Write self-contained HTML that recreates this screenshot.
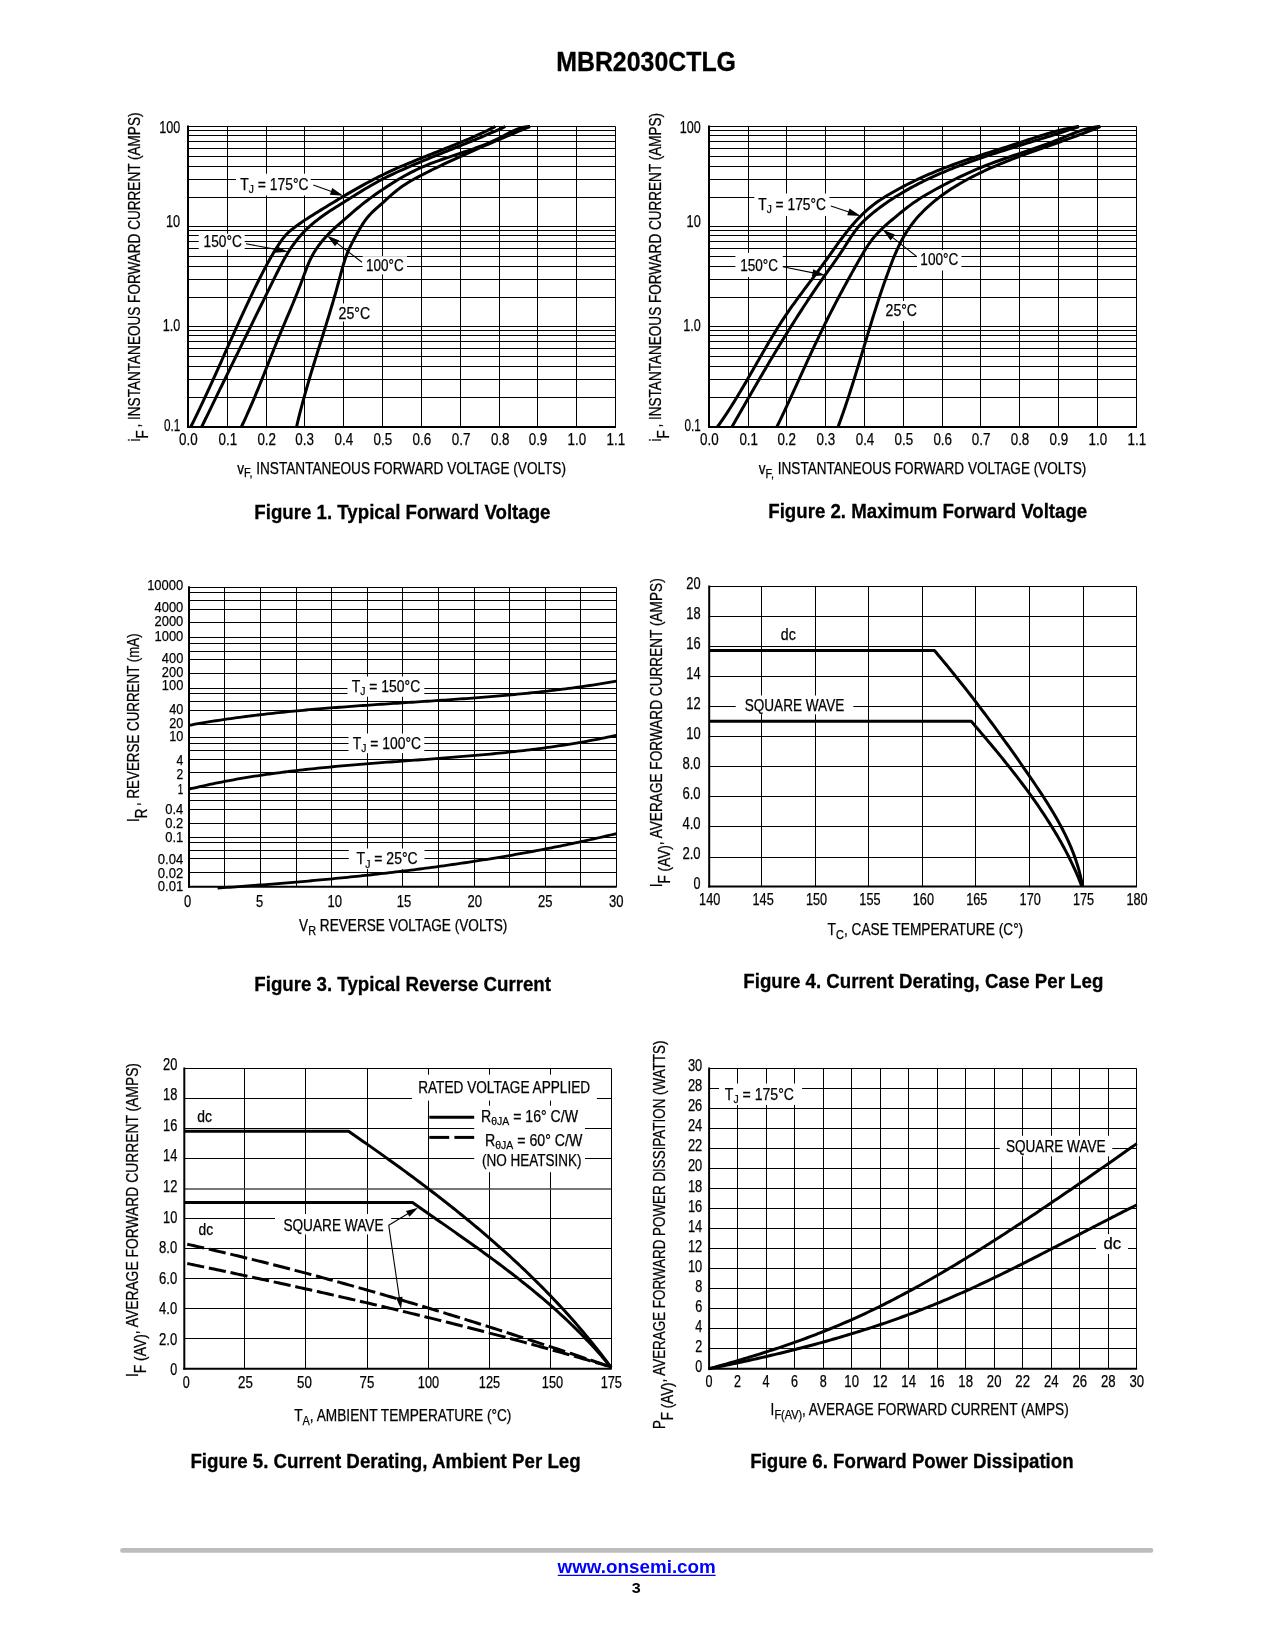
<!DOCTYPE html>
<html><head><meta charset="utf-8"><title>MBR2030CTLG</title>
<style>html,body{margin:0;padding:0;background:#fff;width:1275px;height:1650px;overflow:hidden;font-family:"Liberation Sans", sans-serif;}</style>
</head><body>
<svg width="1275" height="1650" viewBox="0 0 1275 1650" style="display:block;will-change:transform">
<rect width="1275" height="1650" fill="#fff"/>
<g font-family='"Liberation Sans", sans-serif'>
<text x="556.20" y="71.20" font-size="27.3" font-weight="bold" fill="#000" stroke="#000" stroke-width="0.3" textLength="179.80" lengthAdjust="spacingAndGlyphs">MBR2030CTLG</text>
<line x1="227.50" y1="126.50" x2="227.50" y2="427.00" stroke="#000" stroke-width="1"/>
<line x1="266.50" y1="126.50" x2="266.50" y2="427.00" stroke="#000" stroke-width="1"/>
<line x1="304.50" y1="126.50" x2="304.50" y2="427.00" stroke="#000" stroke-width="1"/>
<line x1="343.50" y1="126.50" x2="343.50" y2="427.00" stroke="#000" stroke-width="1"/>
<line x1="382.50" y1="126.50" x2="382.50" y2="427.00" stroke="#000" stroke-width="1"/>
<line x1="421.50" y1="126.50" x2="421.50" y2="427.00" stroke="#000" stroke-width="1"/>
<line x1="460.50" y1="126.50" x2="460.50" y2="427.00" stroke="#000" stroke-width="1"/>
<line x1="499.50" y1="126.50" x2="499.50" y2="427.00" stroke="#000" stroke-width="1"/>
<line x1="537.50" y1="126.50" x2="537.50" y2="427.00" stroke="#000" stroke-width="1"/>
<line x1="576.50" y1="126.50" x2="576.50" y2="427.00" stroke="#000" stroke-width="1"/>
<line x1="188.00" y1="126.50" x2="615.50" y2="126.50" stroke="#000" stroke-width="1"/>
<line x1="188.00" y1="130.50" x2="615.50" y2="130.50" stroke="#000" stroke-width="1"/>
<line x1="188.00" y1="135.50" x2="615.50" y2="135.50" stroke="#000" stroke-width="1"/>
<line x1="188.00" y1="141.50" x2="615.50" y2="141.50" stroke="#000" stroke-width="1"/>
<line x1="188.00" y1="148.50" x2="615.50" y2="148.50" stroke="#000" stroke-width="1"/>
<line x1="188.00" y1="156.50" x2="615.50" y2="156.50" stroke="#000" stroke-width="1"/>
<line x1="188.00" y1="166.50" x2="615.50" y2="166.50" stroke="#000" stroke-width="1"/>
<line x1="188.00" y1="179.50" x2="615.50" y2="179.50" stroke="#000" stroke-width="1"/>
<line x1="188.00" y1="197.50" x2="615.50" y2="197.50" stroke="#000" stroke-width="1"/>
<line x1="188.00" y1="226.50" x2="615.50" y2="226.50" stroke="#000" stroke-width="1"/>
<line x1="188.00" y1="230.50" x2="615.50" y2="230.50" stroke="#000" stroke-width="1"/>
<line x1="188.00" y1="235.50" x2="615.50" y2="235.50" stroke="#000" stroke-width="1"/>
<line x1="188.00" y1="241.50" x2="615.50" y2="241.50" stroke="#000" stroke-width="1"/>
<line x1="188.00" y1="248.50" x2="615.50" y2="248.50" stroke="#000" stroke-width="1"/>
<line x1="188.00" y1="256.50" x2="615.50" y2="256.50" stroke="#000" stroke-width="1"/>
<line x1="188.00" y1="266.50" x2="615.50" y2="266.50" stroke="#000" stroke-width="1"/>
<line x1="188.00" y1="279.50" x2="615.50" y2="279.50" stroke="#000" stroke-width="1"/>
<line x1="188.00" y1="297.50" x2="615.50" y2="297.50" stroke="#000" stroke-width="1"/>
<line x1="188.00" y1="326.50" x2="615.50" y2="326.50" stroke="#000" stroke-width="1"/>
<line x1="188.00" y1="330.50" x2="615.50" y2="330.50" stroke="#000" stroke-width="1"/>
<line x1="188.00" y1="335.50" x2="615.50" y2="335.50" stroke="#000" stroke-width="1"/>
<line x1="188.00" y1="341.50" x2="615.50" y2="341.50" stroke="#000" stroke-width="1"/>
<line x1="188.00" y1="348.50" x2="615.50" y2="348.50" stroke="#000" stroke-width="1"/>
<line x1="188.00" y1="356.50" x2="615.50" y2="356.50" stroke="#000" stroke-width="1"/>
<line x1="188.00" y1="366.50" x2="615.50" y2="366.50" stroke="#000" stroke-width="1"/>
<line x1="188.00" y1="379.50" x2="615.50" y2="379.50" stroke="#000" stroke-width="1"/>
<line x1="188.00" y1="397.50" x2="615.50" y2="397.50" stroke="#000" stroke-width="1"/>
<rect x="236.00" y="173.70" width="74.70" height="21.70" fill="#fff"/>
<rect x="198.70" y="233.70" width="46.00" height="15.80" fill="#fff"/>
<rect x="362.60" y="256.20" width="44.40" height="18.20" fill="#fff"/>
<rect x="335.50" y="303.50" width="37.50" height="18.00" fill="#fff"/>
<line x1="615.50" y1="126.50" x2="615.50" y2="427.00" stroke="#000" stroke-width="1"/>
<line x1="188.00" y1="125.50" x2="188.00" y2="428.00" stroke="#000" stroke-width="2"/>
<line x1="187.00" y1="427.00" x2="616.00" y2="427.00" stroke="#000" stroke-width="2"/>
<path d="M190.70,427.00 L192.06,424.28 L193.41,421.55 L194.75,418.82 L196.08,416.09 L197.41,413.35 L198.72,410.61 L200.03,407.87 L201.33,405.13 L202.63,402.38 L203.92,399.64 L205.20,396.89 L206.47,394.13 L207.74,391.38 L209.01,388.63 L210.27,385.87 L211.53,383.11 L212.78,380.35 L214.03,377.59 L215.27,374.83 L216.51,372.07 L217.75,369.31 L218.99,366.54 L220.23,363.78 L221.46,361.02 L222.69,358.25 L223.93,355.49 L225.16,352.72 L226.39,349.96 L227.62,347.19 L228.86,344.43 L230.09,341.67 L231.33,338.90 L232.57,336.14 L233.81,333.38 L235.05,330.62 L236.29,327.86 L237.54,325.10 L238.79,322.35 L240.05,319.59 L241.31,316.84 L242.58,314.09 L243.85,311.34 L245.12,308.59 L246.40,305.84 L247.69,303.10 L248.99,300.36 L250.29,297.62 L251.60,294.89 L252.91,292.15 L254.24,289.42 L255.57,286.70 L256.91,283.97 L258.26,281.25 L259.62,278.53 L260.99,275.82 L262.38,273.11 L263.77,270.41 L265.19,267.72 L266.62,265.04 L268.07,262.37 L269.55,259.71 L271.05,257.07 L272.57,254.44 L274.13,251.83 L275.72,249.25 L277.33,246.68 L278.99,244.14 L280.69,241.63 L282.46,239.18 L284.32,236.81 L286.29,234.56 L288.39,232.44 L290.62,230.46 L292.96,228.58 L295.37,226.78 L297.81,225.01 L300.28,223.27 L302.78,221.56 L305.29,219.87 L307.82,218.20 L310.38,216.55 L312.94,214.92 L315.52,213.31 L318.10,211.70 L320.70,210.10 L323.29,208.51 L325.89,206.93 L328.49,205.34 L331.09,203.76 L333.69,202.19 L336.29,200.61 L338.89,199.05 L341.49,197.49 L344.10,195.94 L346.71,194.40 L349.33,192.87 L351.95,191.35 L354.58,189.84 L357.21,188.34 L359.85,186.86 L362.49,185.39 L365.14,183.93 L367.80,182.50 L370.47,181.08 L373.15,179.67 L375.83,178.29 L378.53,176.92 L381.24,175.58 L383.96,174.26 L386.69,172.96 L389.43,171.67 L392.17,170.41 L394.93,169.17 L397.70,167.94 L400.48,166.73 L403.26,165.53 L406.05,164.35 L408.84,163.18 L411.65,162.01 L414.45,160.86 L417.26,159.72 L420.08,158.58 L422.90,157.45 L425.72,156.33 L428.54,155.21 L431.37,154.09 L434.19,152.98 L437.02,151.86 L439.85,150.75 L442.67,149.63 L445.49,148.51 L448.32,147.38 L451.13,146.25 L453.95,145.11 L456.76,143.97 L459.57,142.82 L462.37,141.65 L465.17,140.48 L467.96,139.29 L470.74,138.09 L473.52,136.88 L476.29,135.65 L479.05,134.40 L481.80,133.14 L484.54,131.85 L487.27,130.55 L489.99,129.22 L492.70,127.87 L495.40,126.50" fill="none" stroke="#000" stroke-width="3" stroke-linejoin="round" stroke-linecap="butt"/>
<path d="M201.60,427.00 L202.93,424.26 L204.26,421.51 L205.60,418.77 L206.93,416.04 L208.26,413.30 L209.59,410.56 L210.92,407.83 L212.25,405.09 L213.58,402.36 L214.91,399.63 L216.24,396.90 L217.57,394.17 L218.90,391.44 L220.23,388.71 L221.56,385.98 L222.89,383.26 L224.22,380.53 L225.55,377.81 L226.88,375.08 L228.21,372.36 L229.54,369.64 L230.87,366.91 L232.20,364.19 L233.54,361.47 L234.87,358.75 L236.20,356.03 L237.53,353.30 L238.86,350.58 L240.19,347.86 L241.52,345.14 L242.86,342.42 L244.19,339.70 L245.52,336.98 L246.86,334.25 L248.19,331.53 L249.52,328.81 L250.86,326.09 L252.19,323.36 L253.53,320.64 L254.86,317.91 L256.20,315.19 L257.54,312.46 L258.88,309.74 L260.21,307.01 L261.55,304.28 L262.89,301.55 L264.23,298.82 L265.57,296.09 L266.91,293.36 L268.26,290.63 L269.60,287.89 L270.94,285.16 L272.29,282.42 L273.63,279.68 L274.98,276.95 L276.33,274.21 L277.69,271.48 L279.07,268.75 L280.46,266.04 L281.88,263.35 L283.33,260.68 L284.81,258.03 L286.33,255.40 L287.90,252.81 L289.51,250.25 L291.17,247.73 L292.90,245.24 L294.68,242.81 L296.52,240.41 L298.42,238.07 L300.38,235.77 L302.39,233.52 L304.47,231.33 L306.60,229.19 L308.78,227.11 L311.02,225.08 L313.32,223.11 L315.66,221.20 L318.06,219.34 L320.49,217.52 L322.96,215.74 L325.46,214.00 L327.99,212.29 L330.54,210.61 L333.11,208.95 L335.69,207.30 L338.28,205.67 L340.87,204.04 L343.46,202.42 L346.05,200.80 L348.63,199.17 L351.21,197.55 L353.79,195.93 L356.37,194.32 L358.95,192.72 L361.53,191.13 L364.12,189.55 L366.72,187.99 L369.32,186.45 L371.94,184.93 L374.57,183.44 L377.21,181.97 L379.87,180.53 L382.54,179.12 L385.24,177.74 L387.95,176.40 L390.67,175.08 L393.41,173.78 L396.16,172.51 L398.92,171.25 L401.68,170.01 L404.45,168.77 L407.23,167.55 L410.01,166.34 L412.80,165.15 L415.59,163.96 L418.39,162.77 L421.19,161.60 L424.00,160.43 L426.81,159.27 L429.62,158.12 L432.43,156.97 L435.25,155.83 L438.07,154.69 L440.89,153.55 L443.71,152.41 L446.53,151.28 L449.35,150.14 L452.18,149.01 L455.00,147.87 L457.82,146.74 L460.64,145.60 L463.46,144.46 L466.27,143.31 L469.09,142.17 L471.90,141.01 L474.71,139.85 L477.51,138.68 L480.31,137.51 L483.11,136.33 L485.90,135.14 L488.69,133.94 L491.48,132.73 L494.25,131.51 L497.02,130.27 L499.79,129.03 L502.55,127.77 L505.30,126.50" fill="none" stroke="#000" stroke-width="3" stroke-linejoin="round" stroke-linecap="butt"/>
<path d="M241.30,427.00 L242.61,424.26 L243.90,421.52 L245.18,418.76 L246.44,416.00 L247.69,413.23 L248.93,410.46 L250.15,407.68 L251.36,404.89 L252.55,402.10 L253.74,399.30 L254.92,396.50 L256.09,393.69 L257.25,390.88 L258.40,388.07 L259.55,385.25 L260.69,382.43 L261.83,379.61 L262.96,376.79 L264.08,373.96 L265.21,371.13 L266.33,368.31 L267.45,365.48 L268.57,362.65 L269.69,359.82 L270.81,357.00 L271.93,354.17 L273.06,351.35 L274.18,348.52 L275.31,345.71 L276.45,342.89 L277.59,340.08 L278.74,337.27 L279.89,334.46 L281.05,331.66 L282.22,328.86 L283.40,326.07 L284.57,323.27 L285.75,320.48 L286.93,317.69 L288.12,314.90 L289.30,312.11 L290.48,309.31 L291.65,306.52 L292.82,303.72 L293.98,300.91 L295.13,298.10 L296.28,295.29 L297.41,292.46 L298.54,289.63 L299.65,286.79 L300.74,283.94 L301.82,281.09 L302.89,278.22 L303.94,275.34 L304.99,272.46 L306.06,269.60 L307.17,266.75 L308.33,263.93 L309.55,261.14 L310.84,258.40 L312.23,255.71 L313.72,253.08 L315.30,250.50 L316.96,247.98 L318.70,245.51 L320.53,243.09 L322.43,240.73 L324.39,238.42 L326.43,236.17 L328.53,233.97 L330.68,231.83 L332.89,229.73 L335.14,227.68 L337.42,225.65 L339.71,223.65 L342.01,221.65 L344.30,219.65 L346.59,217.65 L348.87,215.65 L351.15,213.65 L353.43,211.66 L355.73,209.69 L358.05,207.74 L360.40,205.82 L362.76,203.92 L365.16,202.05 L367.57,200.21 L370.01,198.39 L372.46,196.59 L374.94,194.82 L377.43,193.07 L379.93,191.34 L382.44,189.63 L384.97,187.94 L387.51,186.27 L390.06,184.62 L392.62,182.99 L395.20,181.40 L397.79,179.82 L400.40,178.28 L403.02,176.77 L405.66,175.29 L408.32,173.85 L411.00,172.44 L413.69,171.08 L416.41,169.75 L419.14,168.46 L421.90,167.21 L424.68,166.01 L427.48,164.85 L430.30,163.73 L433.13,162.64 L435.98,161.58 L438.84,160.54 L441.71,159.53 L444.59,158.54 L447.48,157.56 L450.38,156.59 L453.28,155.63 L456.18,154.67 L459.08,153.72 L461.98,152.76 L464.88,151.79 L467.77,150.81 L470.65,149.82 L473.53,148.81 L476.40,147.78 L479.25,146.73 L482.10,145.64 L484.92,144.53 L487.73,143.37 L490.52,142.18 L493.29,140.94 L496.04,139.66 L498.76,138.33 L501.46,136.94 L504.14,135.52 L506.82,134.09 L509.51,132.70 L512.23,131.37 L514.99,130.13 L517.81,129.02 L520.71,128.07 L523.70,127.31 L526.79,126.78 L530.00,126.50" fill="none" stroke="#000" stroke-width="3" stroke-linejoin="round" stroke-linecap="butt"/>
<path d="M296.50,427.00 L297.19,424.04 L297.90,421.08 L298.62,418.12 L299.36,415.17 L300.10,412.22 L300.86,409.28 L301.64,406.34 L302.42,403.40 L303.21,400.47 L304.02,397.54 L304.83,394.61 L305.66,391.68 L306.49,388.76 L307.33,385.84 L308.18,382.92 L309.04,380.01 L309.90,377.10 L310.77,374.19 L311.65,371.28 L312.53,368.37 L313.42,365.46 L314.31,362.56 L315.20,359.65 L316.10,356.75 L317.00,353.85 L317.90,350.95 L318.80,348.04 L319.71,345.14 L320.62,342.24 L321.52,339.34 L322.43,336.44 L323.33,333.54 L324.23,330.64 L325.14,327.73 L326.04,324.83 L326.93,321.93 L327.82,319.02 L328.71,316.11 L329.60,313.21 L330.48,310.30 L331.35,307.38 L332.22,304.47 L333.08,301.55 L333.93,298.64 L334.78,295.72 L335.62,292.79 L336.45,289.87 L337.27,286.94 L338.08,284.01 L338.88,281.07 L339.67,278.14 L340.45,275.20 L341.24,272.26 L342.04,269.33 L342.87,266.41 L343.73,263.50 L344.64,260.61 L345.60,257.74 L346.63,254.90 L347.73,252.08 L348.92,249.30 L350.21,246.56 L351.58,243.84 L353.00,241.14 L354.45,238.45 L355.90,235.76 L357.37,233.07 L358.86,230.40 L360.39,227.76 L361.98,225.17 L363.63,222.63 L365.37,220.16 L367.20,217.78 L369.15,215.49 L371.21,213.30 L373.35,211.18 L375.57,209.12 L377.83,207.09 L380.12,205.08 L382.40,203.07 L384.67,201.03 L386.94,198.99 L389.20,196.95 L391.48,194.93 L393.78,192.94 L396.11,191.00 L398.49,189.12 L400.92,187.31 L403.41,185.59 L405.94,183.93 L408.52,182.34 L411.14,180.80 L413.80,179.31 L416.47,177.86 L419.16,176.43 L421.87,175.03 L424.58,173.64 L427.29,172.26 L430.01,170.89 L432.73,169.53 L435.46,168.19 L438.20,166.85 L440.93,165.53 L443.68,164.22 L446.42,162.91 L449.17,161.62 L451.93,160.33 L454.68,159.06 L457.45,157.79 L460.21,156.53 L462.98,155.27 L465.75,154.03 L468.52,152.79 L471.30,151.55 L474.08,150.33 L476.86,149.11 L479.64,147.89 L482.43,146.68 L485.22,145.47 L488.01,144.27 L490.80,143.07 L493.60,141.88 L496.39,140.69 L499.19,139.50 L501.99,138.31 L504.79,137.13 L507.59,135.94 L510.39,134.76 L513.19,133.58 L515.99,132.40 L518.79,131.22 L521.59,130.04 L524.40,128.86 L527.20,127.68 L530.00,126.50" fill="none" stroke="#000" stroke-width="3" stroke-linejoin="round" stroke-linecap="butt"/>
<line x1="313.30" y1="185.00" x2="332.94" y2="192.00" stroke="#000" stroke-width="1.1"/>
<polygon points="343.30,195.70 329.85,194.72 332.26,187.94" fill="#000"/>
<line x1="246.00" y1="243.70" x2="277.19" y2="249.64" stroke="#000" stroke-width="1.1"/>
<polygon points="288.00,251.70 274.56,252.80 275.90,245.73" fill="#000"/>
<line x1="362.00" y1="262.30" x2="335.63" y2="242.09" stroke="#000" stroke-width="1.1"/>
<polygon points="326.90,235.40 339.41,240.45 335.03,246.17" fill="#000"/>
<text x="240.20" y="189.70" font-size="15.6" font-weight="normal" fill="#000" stroke="#000" stroke-width="0.25" textLength="68.30" lengthAdjust="spacingAndGlyphs">T<tspan font-size="11.544" dy="3.4">J</tspan><tspan font-size="15.6" dy="-3.4"> = 175°C</tspan></text>
<text x="203.50" y="246.60" font-size="15.6" font-weight="normal" fill="#000" stroke="#000" stroke-width="0.25" textLength="38.30" lengthAdjust="spacingAndGlyphs">150°C</text>
<text x="366.00" y="270.70" font-size="15.6" font-weight="normal" fill="#000" stroke="#000" stroke-width="0.25" textLength="37.70" lengthAdjust="spacingAndGlyphs">100°C</text>
<text x="338.60" y="318.80" font-size="15.6" font-weight="normal" fill="#000" stroke="#000" stroke-width="0.25" textLength="31.60" lengthAdjust="spacingAndGlyphs">25°C</text>
<text x="179.10" y="445.00" font-size="16.3" font-weight="normal" fill="#000" stroke="#000" stroke-width="0.25" textLength="18.60" lengthAdjust="spacingAndGlyphs">0.0</text>
<text x="218.60" y="445.00" font-size="16.3" font-weight="normal" fill="#000" stroke="#000" stroke-width="0.25" textLength="18.60" lengthAdjust="spacingAndGlyphs">0.1</text>
<text x="257.40" y="445.00" font-size="16.3" font-weight="normal" fill="#000" stroke="#000" stroke-width="0.25" textLength="18.60" lengthAdjust="spacingAndGlyphs">0.2</text>
<text x="295.30" y="445.00" font-size="16.3" font-weight="normal" fill="#000" stroke="#000" stroke-width="0.25" textLength="18.60" lengthAdjust="spacingAndGlyphs">0.3</text>
<text x="334.50" y="445.00" font-size="16.3" font-weight="normal" fill="#000" stroke="#000" stroke-width="0.25" textLength="18.60" lengthAdjust="spacingAndGlyphs">0.4</text>
<text x="373.50" y="445.00" font-size="16.3" font-weight="normal" fill="#000" stroke="#000" stroke-width="0.25" textLength="18.60" lengthAdjust="spacingAndGlyphs">0.5</text>
<text x="412.50" y="445.00" font-size="16.3" font-weight="normal" fill="#000" stroke="#000" stroke-width="0.25" textLength="18.60" lengthAdjust="spacingAndGlyphs">0.6</text>
<text x="451.80" y="445.00" font-size="16.3" font-weight="normal" fill="#000" stroke="#000" stroke-width="0.25" textLength="18.60" lengthAdjust="spacingAndGlyphs">0.7</text>
<text x="490.90" y="445.00" font-size="16.3" font-weight="normal" fill="#000" stroke="#000" stroke-width="0.25" textLength="18.60" lengthAdjust="spacingAndGlyphs">0.8</text>
<text x="528.70" y="445.00" font-size="16.3" font-weight="normal" fill="#000" stroke="#000" stroke-width="0.25" textLength="18.60" lengthAdjust="spacingAndGlyphs">0.9</text>
<text x="567.60" y="445.00" font-size="16.3" font-weight="normal" fill="#000" stroke="#000" stroke-width="0.25" textLength="18.60" lengthAdjust="spacingAndGlyphs">1.0</text>
<text x="606.60" y="445.00" font-size="16.3" font-weight="normal" fill="#000" stroke="#000" stroke-width="0.25" textLength="18.60" lengthAdjust="spacingAndGlyphs">1.1</text>
<text x="159.20" y="132.60" font-size="16.5" font-weight="normal" fill="#000" stroke="#000" stroke-width="0.25" textLength="21.00" lengthAdjust="spacingAndGlyphs">100</text>
<text x="166.00" y="226.70" font-size="16.5" font-weight="normal" fill="#000" stroke="#000" stroke-width="0.25" textLength="14.20" lengthAdjust="spacingAndGlyphs">10</text>
<text x="162.70" y="330.70" font-size="16.5" font-weight="normal" fill="#000" stroke="#000" stroke-width="0.25" textLength="17.50" lengthAdjust="spacingAndGlyphs">1.0</text>
<text x="163.90" y="430.80" font-size="16.5" font-weight="normal" fill="#000" stroke="#000" stroke-width="0.25" textLength="16.30" lengthAdjust="spacingAndGlyphs">0.1</text>
<text x="237.20" y="473.50" font-size="15.6" font-weight="normal" fill="#000" stroke="#000" stroke-width="0.25" textLength="328.80" lengthAdjust="spacingAndGlyphs">v<tspan font-size="12.48" dy="3.8">F,</tspan><tspan font-size="15.6" dy="-3.8"> INSTANTANEOUS FORWARD VOLTAGE (VOLTS)</tspan></text>
<text transform="translate(140.00 441.50) rotate(-90)" x="0" y="0" font-size="15.6" stroke="#000" stroke-width="0.25" textLength="329.00" lengthAdjust="spacingAndGlyphs">i<tspan font-size="15.6" dy="8.3">F</tspan><tspan font-size="15.6" dy="-8.3"> , INSTANTANEOUS FORWARD CURRENT (AMPS)</tspan></text>
<text x="254.30" y="519.10" font-size="20.5" font-weight="bold" fill="#000" stroke="#000" stroke-width="0.3" textLength="296.20" lengthAdjust="spacingAndGlyphs">Figure 1. Typical Forward Voltage</text>
<line x1="748.50" y1="126.50" x2="748.50" y2="427.00" stroke="#000" stroke-width="1"/>
<line x1="786.50" y1="126.50" x2="786.50" y2="427.00" stroke="#000" stroke-width="1"/>
<line x1="825.50" y1="126.50" x2="825.50" y2="427.00" stroke="#000" stroke-width="1"/>
<line x1="864.50" y1="126.50" x2="864.50" y2="427.00" stroke="#000" stroke-width="1"/>
<line x1="903.50" y1="126.50" x2="903.50" y2="427.00" stroke="#000" stroke-width="1"/>
<line x1="942.50" y1="126.50" x2="942.50" y2="427.00" stroke="#000" stroke-width="1"/>
<line x1="980.50" y1="126.50" x2="980.50" y2="427.00" stroke="#000" stroke-width="1"/>
<line x1="1019.50" y1="126.50" x2="1019.50" y2="427.00" stroke="#000" stroke-width="1"/>
<line x1="1058.50" y1="126.50" x2="1058.50" y2="427.00" stroke="#000" stroke-width="1"/>
<line x1="1097.50" y1="126.50" x2="1097.50" y2="427.00" stroke="#000" stroke-width="1"/>
<line x1="709.00" y1="126.50" x2="1136.50" y2="126.50" stroke="#000" stroke-width="1"/>
<line x1="709.00" y1="130.50" x2="1136.50" y2="130.50" stroke="#000" stroke-width="1"/>
<line x1="709.00" y1="135.50" x2="1136.50" y2="135.50" stroke="#000" stroke-width="1"/>
<line x1="709.00" y1="141.50" x2="1136.50" y2="141.50" stroke="#000" stroke-width="1"/>
<line x1="709.00" y1="148.50" x2="1136.50" y2="148.50" stroke="#000" stroke-width="1"/>
<line x1="709.00" y1="156.50" x2="1136.50" y2="156.50" stroke="#000" stroke-width="1"/>
<line x1="709.00" y1="166.50" x2="1136.50" y2="166.50" stroke="#000" stroke-width="1"/>
<line x1="709.00" y1="179.50" x2="1136.50" y2="179.50" stroke="#000" stroke-width="1"/>
<line x1="709.00" y1="197.50" x2="1136.50" y2="197.50" stroke="#000" stroke-width="1"/>
<line x1="709.00" y1="226.50" x2="1136.50" y2="226.50" stroke="#000" stroke-width="1"/>
<line x1="709.00" y1="230.50" x2="1136.50" y2="230.50" stroke="#000" stroke-width="1"/>
<line x1="709.00" y1="235.50" x2="1136.50" y2="235.50" stroke="#000" stroke-width="1"/>
<line x1="709.00" y1="241.50" x2="1136.50" y2="241.50" stroke="#000" stroke-width="1"/>
<line x1="709.00" y1="248.50" x2="1136.50" y2="248.50" stroke="#000" stroke-width="1"/>
<line x1="709.00" y1="256.50" x2="1136.50" y2="256.50" stroke="#000" stroke-width="1"/>
<line x1="709.00" y1="266.50" x2="1136.50" y2="266.50" stroke="#000" stroke-width="1"/>
<line x1="709.00" y1="279.50" x2="1136.50" y2="279.50" stroke="#000" stroke-width="1"/>
<line x1="709.00" y1="297.50" x2="1136.50" y2="297.50" stroke="#000" stroke-width="1"/>
<line x1="709.00" y1="326.50" x2="1136.50" y2="326.50" stroke="#000" stroke-width="1"/>
<line x1="709.00" y1="330.50" x2="1136.50" y2="330.50" stroke="#000" stroke-width="1"/>
<line x1="709.00" y1="335.50" x2="1136.50" y2="335.50" stroke="#000" stroke-width="1"/>
<line x1="709.00" y1="341.50" x2="1136.50" y2="341.50" stroke="#000" stroke-width="1"/>
<line x1="709.00" y1="348.50" x2="1136.50" y2="348.50" stroke="#000" stroke-width="1"/>
<line x1="709.00" y1="356.50" x2="1136.50" y2="356.50" stroke="#000" stroke-width="1"/>
<line x1="709.00" y1="366.50" x2="1136.50" y2="366.50" stroke="#000" stroke-width="1"/>
<line x1="709.00" y1="379.50" x2="1136.50" y2="379.50" stroke="#000" stroke-width="1"/>
<line x1="709.00" y1="397.50" x2="1136.50" y2="397.50" stroke="#000" stroke-width="1"/>
<rect x="754.30" y="193.50" width="75.10" height="22.50" fill="#fff"/>
<rect x="735.40" y="252.80" width="47.40" height="24.20" fill="#fff"/>
<rect x="917.00" y="250.00" width="44.40" height="20.50" fill="#fff"/>
<rect x="882.50" y="301.00" width="38.00" height="20.00" fill="#fff"/>
<line x1="1136.50" y1="126.50" x2="1136.50" y2="427.00" stroke="#000" stroke-width="1"/>
<line x1="709.00" y1="125.50" x2="709.00" y2="428.00" stroke="#000" stroke-width="2"/>
<line x1="708.00" y1="427.00" x2="1137.00" y2="427.00" stroke="#000" stroke-width="2"/>
<path d="M717.30,427.00 L719.06,424.55 L720.80,422.08 L722.52,419.60 L724.22,417.10 L725.90,414.59 L727.57,412.06 L729.22,409.52 L730.85,406.98 L732.47,404.42 L734.07,401.85 L735.66,399.27 L737.24,396.68 L738.81,394.08 L740.37,391.48 L741.92,388.87 L743.46,386.25 L745.00,383.63 L746.52,381.00 L748.05,378.37 L749.56,375.74 L751.08,373.10 L752.59,370.46 L754.10,367.82 L755.61,365.18 L757.12,362.54 L758.63,359.90 L760.14,357.27 L761.66,354.63 L763.18,352.00 L764.70,349.38 L766.23,346.75 L767.77,344.13 L769.31,341.52 L770.87,338.92 L772.43,336.32 L774.00,333.73 L775.58,331.15 L777.18,328.58 L778.79,326.02 L780.41,323.47 L782.05,320.93 L783.70,318.40 L785.37,315.89 L787.06,313.39 L788.77,310.90 L790.49,308.43 L792.22,305.96 L793.97,303.51 L795.74,301.07 L797.51,298.63 L799.29,296.20 L801.09,293.77 L802.88,291.35 L804.69,288.94 L806.50,286.52 L808.31,284.11 L810.13,281.69 L811.95,279.28 L813.76,276.86 L815.58,274.44 L817.39,272.01 L819.19,269.58 L821.00,267.14 L822.79,264.70 L824.58,262.24 L826.36,259.77 L828.13,257.30 L829.89,254.82 L831.66,252.34 L833.43,249.86 L835.20,247.38 L836.98,244.91 L838.76,242.45 L840.56,240.00 L842.38,237.57 L844.21,235.15 L846.07,232.76 L847.94,230.39 L849.85,228.05 L851.78,225.73 L853.74,223.45 L855.74,221.21 L857.78,219.00 L859.86,216.84 L861.98,214.72 L864.14,212.65 L866.36,210.62 L868.62,208.65 L870.94,206.74 L873.31,204.88 L875.74,203.08 L878.21,201.33 L880.72,199.62 L883.26,197.96 L885.84,196.35 L888.45,194.76 L891.08,193.22 L893.73,191.70 L896.39,190.21 L899.06,188.75 L901.74,187.31 L904.44,185.90 L907.14,184.51 L909.85,183.14 L912.57,181.80 L915.31,180.48 L918.05,179.18 L920.79,177.91 L923.55,176.66 L926.32,175.43 L929.09,174.22 L931.88,173.03 L934.67,171.86 L937.46,170.71 L940.27,169.58 L943.08,168.47 L945.90,167.38 L948.73,166.31 L951.56,165.26 L954.40,164.22 L957.24,163.19 L960.09,162.18 L962.95,161.18 L965.81,160.20 L968.67,159.22 L971.54,158.26 L974.41,157.30 L977.28,156.35 L980.16,155.41 L983.04,154.47 L985.92,153.54 L988.80,152.62 L991.69,151.69 L994.57,150.77 L997.46,149.85 L1000.35,148.93 L1003.24,148.01 L1006.12,147.08 L1009.01,146.16 L1011.89,145.23 L1014.78,144.29 L1017.66,143.35 L1020.54,142.40 L1023.42,141.45 L1026.30,140.49 L1029.18,139.53 L1032.05,138.58 L1034.93,137.63 L1037.82,136.70 L1040.70,135.77 L1043.59,134.86 L1046.48,133.98 L1049.38,133.12 L1052.29,132.28 L1055.21,131.47 L1058.13,130.70 L1061.06,129.96 L1064.00,129.27 L1066.96,128.61 L1069.92,128.01 L1072.90,127.45 L1075.89,126.95 L1078.90,126.50" fill="none" stroke="#000" stroke-width="3" stroke-linejoin="round" stroke-linecap="butt"/>
<path d="M731.90,427.00 L733.40,424.36 L734.89,421.73 L736.39,419.09 L737.89,416.45 L739.39,413.82 L740.89,411.18 L742.39,408.55 L743.89,405.91 L745.40,403.28 L746.90,400.65 L748.41,398.02 L749.92,395.39 L751.43,392.76 L752.95,390.14 L754.46,387.51 L755.98,384.89 L757.51,382.27 L759.03,379.64 L760.56,377.03 L762.09,374.41 L763.62,371.79 L765.16,369.18 L766.69,366.57 L768.24,363.96 L769.78,361.36 L771.33,358.75 L772.89,356.15 L774.45,353.55 L776.01,350.95 L777.57,348.36 L779.15,345.77 L780.72,343.18 L782.30,340.60 L783.88,338.01 L785.47,335.44 L787.07,332.86 L788.67,330.29 L790.27,327.72 L791.88,325.15 L793.50,322.59 L795.12,320.03 L796.74,317.48 L798.38,314.92 L800.01,312.38 L801.66,309.83 L803.31,307.29 L804.97,304.76 L806.63,302.23 L808.30,299.70 L809.98,297.18 L811.66,294.66 L813.35,292.15 L815.05,289.64 L816.75,287.13 L818.47,284.63 L820.19,282.14 L821.92,279.65 L823.65,277.17 L825.39,274.69 L827.14,272.21 L828.90,269.74 L830.65,267.27 L832.41,264.79 L834.16,262.32 L835.89,259.83 L837.62,257.34 L839.33,254.84 L841.02,252.33 L842.70,249.80 L844.34,247.25 L845.97,244.69 L847.59,242.13 L849.22,239.58 L850.88,237.05 L852.57,234.55 L854.31,232.09 L856.11,229.68 L857.99,227.32 L859.95,225.04 L862.01,222.83 L864.14,220.68 L866.34,218.59 L868.61,216.55 L870.92,214.57 L873.28,212.64 L875.67,210.74 L878.08,208.89 L880.52,207.07 L882.98,205.28 L885.45,203.53 L887.94,201.80 L890.45,200.11 L892.98,198.45 L895.52,196.82 L898.08,195.23 L900.66,193.66 L903.25,192.12 L905.85,190.60 L908.48,189.12 L911.11,187.66 L913.77,186.23 L916.43,184.82 L919.11,183.44 L921.80,182.08 L924.51,180.74 L927.22,179.43 L929.95,178.14 L932.69,176.88 L935.44,175.63 L938.21,174.41 L940.98,173.20 L943.76,172.01 L946.55,170.85 L949.36,169.70 L952.17,168.56 L954.99,167.45 L957.81,166.35 L960.65,165.27 L963.49,164.20 L966.34,163.14 L969.20,162.10 L972.06,161.07 L974.93,160.06 L977.80,159.06 L980.68,158.06 L983.57,157.08 L986.46,156.11 L989.35,155.15 L992.24,154.19 L995.14,153.25 L998.04,152.31 L1000.95,151.38 L1003.86,150.45 L1006.76,149.53 L1009.67,148.61 L1012.58,147.70 L1015.49,146.80 L1018.40,145.89 L1021.32,144.99 L1024.23,144.09 L1027.13,143.19 L1030.04,142.29 L1032.95,141.39 L1035.85,140.50 L1038.75,139.59 L1041.65,138.69 L1044.55,137.79 L1047.44,136.88 L1050.33,135.97 L1053.21,135.05 L1056.09,134.13 L1058.96,133.20 L1061.83,132.27 L1064.69,131.33 L1067.55,130.38 L1070.40,129.42 L1073.24,128.46 L1076.07,127.48 L1078.90,126.50" fill="none" stroke="#000" stroke-width="3" stroke-linejoin="round" stroke-linecap="butt"/>
<path d="M776.80,427.00 L778.13,424.28 L779.44,421.56 L780.75,418.83 L782.06,416.10 L783.35,413.37 L784.64,410.64 L785.93,407.90 L787.21,405.16 L788.48,402.42 L789.76,399.68 L791.02,396.93 L792.29,394.19 L793.55,391.44 L794.81,388.69 L796.07,385.94 L797.32,383.19 L798.58,380.44 L799.83,377.69 L801.08,374.94 L802.34,372.19 L803.59,369.44 L804.85,366.69 L806.11,363.94 L807.37,361.19 L808.63,358.45 L809.90,355.70 L811.16,352.96 L812.44,350.22 L813.72,347.48 L815.00,344.74 L816.29,342.01 L817.58,339.28 L818.88,336.55 L820.18,333.82 L821.50,331.10 L822.82,328.38 L824.15,325.66 L825.48,322.95 L826.83,320.25 L828.18,317.54 L829.55,314.84 L830.91,312.14 L832.29,309.45 L833.68,306.76 L835.07,304.08 L836.47,301.40 L837.88,298.72 L839.29,296.04 L840.71,293.37 L842.14,290.70 L843.58,288.04 L845.02,285.38 L846.47,282.72 L847.92,280.07 L849.38,277.41 L850.85,274.77 L852.32,272.12 L853.80,269.48 L855.28,266.84 L856.77,264.20 L858.26,261.57 L859.76,258.94 L861.27,256.32 L862.79,253.70 L864.33,251.11 L865.91,248.54 L867.54,246.01 L869.22,243.52 L870.97,241.08 L872.79,238.71 L874.70,236.40 L876.69,234.16 L878.75,231.98 L880.87,229.84 L883.05,227.76 L885.28,225.71 L887.54,223.69 L889.83,221.70 L892.14,219.74 L894.47,217.78 L896.80,215.84 L899.13,213.90 L901.47,211.98 L903.83,210.08 L906.20,208.21 L908.60,206.38 L911.03,204.59 L913.48,202.84 L915.97,201.14 L918.48,199.48 L921.01,197.85 L923.57,196.27 L926.15,194.71 L928.75,193.18 L931.37,191.68 L934.01,190.21 L936.65,188.75 L939.31,187.31 L941.98,185.89 L944.66,184.49 L947.35,183.09 L950.04,181.71 L952.74,180.35 L955.46,179.00 L958.17,177.67 L960.90,176.35 L963.64,175.06 L966.39,173.78 L969.14,172.53 L971.91,171.30 L974.68,170.09 L977.46,168.90 L980.25,167.74 L983.05,166.61 L985.86,165.49 L988.68,164.40 L991.51,163.33 L994.34,162.28 L997.18,161.25 L1000.03,160.23 L1002.88,159.22 L1005.73,158.23 L1008.59,157.24 L1011.45,156.26 L1014.31,155.29 L1017.17,154.32 L1020.04,153.35 L1022.90,152.38 L1025.77,151.42 L1028.63,150.44 L1031.49,149.46 L1034.35,148.48 L1037.21,147.48 L1040.06,146.47 L1042.90,145.46 L1045.75,144.42 L1048.58,143.37 L1051.41,142.30 L1054.23,141.21 L1057.04,140.10 L1059.85,138.96 L1062.64,137.80 L1065.44,136.64 L1068.24,135.48 L1071.04,134.34 L1073.85,133.23 L1076.67,132.16 L1079.52,131.14 L1082.38,130.18 L1085.28,129.31 L1088.20,128.52 L1091.16,127.83 L1094.16,127.26 L1097.21,126.81 L1100.30,126.50" fill="none" stroke="#000" stroke-width="3" stroke-linejoin="round" stroke-linecap="butt"/>
<path d="M838.00,427.00 L839.06,424.14 L840.10,421.27 L841.13,418.40 L842.14,415.53 L843.15,412.65 L844.14,409.78 L845.13,406.90 L846.10,404.01 L847.06,401.13 L848.02,398.24 L848.96,395.35 L849.90,392.46 L850.83,389.57 L851.75,386.68 L852.67,383.78 L853.58,380.88 L854.48,377.98 L855.38,375.08 L856.27,372.18 L857.16,369.28 L858.05,366.38 L858.93,363.47 L859.81,360.57 L860.69,357.67 L861.57,354.76 L862.44,351.86 L863.32,348.95 L864.19,346.05 L865.07,343.14 L865.94,340.24 L866.82,337.33 L867.70,334.43 L868.58,331.52 L869.47,328.62 L870.36,325.72 L871.25,322.82 L872.14,319.92 L873.05,317.02 L873.95,314.12 L874.87,311.23 L875.79,308.33 L876.71,305.44 L877.65,302.55 L878.59,299.66 L879.54,296.78 L880.50,293.89 L881.47,291.01 L882.45,288.13 L883.44,285.25 L884.44,282.38 L885.46,279.51 L886.48,276.64 L887.52,273.77 L888.57,270.91 L889.64,268.05 L890.72,265.19 L891.81,262.34 L892.93,259.50 L894.07,256.67 L895.25,253.86 L896.46,251.06 L897.71,248.29 L899.01,245.54 L900.36,242.82 L901.76,240.14 L903.22,237.49 L904.74,234.88 L906.32,232.31 L907.96,229.78 L909.66,227.29 L911.42,224.86 L913.24,222.47 L915.12,220.13 L917.06,217.84 L919.06,215.60 L921.11,213.40 L923.21,211.24 L925.36,209.13 L927.56,207.06 L929.80,205.04 L932.09,203.05 L934.42,201.11 L936.79,199.21 L939.20,197.34 L941.65,195.52 L944.13,193.73 L946.64,191.98 L949.18,190.27 L951.76,188.59 L954.35,186.95 L956.98,185.35 L959.63,183.77 L962.29,182.23 L964.98,180.72 L967.69,179.25 L970.41,177.80 L973.14,176.38 L975.89,174.99 L978.64,173.63 L981.40,172.30 L984.17,171.00 L986.94,169.72 L989.72,168.46 L992.51,167.23 L995.30,166.02 L998.09,164.83 L1000.89,163.67 L1003.70,162.52 L1006.51,161.39 L1009.32,160.27 L1012.14,159.17 L1014.96,158.09 L1017.78,157.01 L1020.61,155.95 L1023.44,154.90 L1026.28,153.86 L1029.11,152.83 L1031.95,151.81 L1034.79,150.79 L1037.64,149.78 L1040.48,148.77 L1043.33,147.76 L1046.18,146.76 L1049.03,145.76 L1051.88,144.75 L1054.73,143.75 L1057.58,142.74 L1060.43,141.73 L1063.29,140.71 L1066.14,139.69 L1068.99,138.66 L1071.84,137.62 L1074.70,136.57 L1077.55,135.51 L1080.40,134.44 L1083.24,133.35 L1086.09,132.25 L1088.94,131.14 L1091.78,130.00 L1094.62,128.86 L1097.46,127.69 L1100.30,126.50" fill="none" stroke="#000" stroke-width="3" stroke-linejoin="round" stroke-linecap="butt"/>
<line x1="830.90" y1="206.00" x2="850.28" y2="212.57" stroke="#000" stroke-width="1.1"/>
<polygon points="860.70,216.10 847.23,215.34 849.54,208.52" fill="#000"/>
<line x1="782.80" y1="266.80" x2="814.51" y2="273.14" stroke="#000" stroke-width="1.1"/>
<polygon points="825.30,275.30 811.85,276.28 813.26,269.22" fill="#000"/>
<line x1="916.50" y1="256.40" x2="891.22" y2="236.34" stroke="#000" stroke-width="1.1"/>
<polygon points="882.60,229.50 895.02,234.76 890.55,240.40" fill="#000"/>
<text x="758.20" y="210.00" font-size="15.6" font-weight="normal" fill="#000" stroke="#000" stroke-width="0.25" textLength="67.80" lengthAdjust="spacingAndGlyphs">T<tspan font-size="11.544" dy="3.4">J</tspan><tspan font-size="15.6" dy="-3.4"> = 175°C</tspan></text>
<text x="740.20" y="270.50" font-size="15.6" font-weight="normal" fill="#000" stroke="#000" stroke-width="0.25" textLength="37.90" lengthAdjust="spacingAndGlyphs">150°C</text>
<text x="920.30" y="264.80" font-size="15.6" font-weight="normal" fill="#000" stroke="#000" stroke-width="0.25" textLength="38.10" lengthAdjust="spacingAndGlyphs">100°C</text>
<text x="885.60" y="316.30" font-size="15.6" font-weight="normal" fill="#000" stroke="#000" stroke-width="0.25" textLength="31.40" lengthAdjust="spacingAndGlyphs">25°C</text>
<text x="700.10" y="445.00" font-size="16.3" font-weight="normal" fill="#000" stroke="#000" stroke-width="0.25" textLength="18.60" lengthAdjust="spacingAndGlyphs">0.0</text>
<text x="739.40" y="445.00" font-size="16.3" font-weight="normal" fill="#000" stroke="#000" stroke-width="0.25" textLength="18.60" lengthAdjust="spacingAndGlyphs">0.1</text>
<text x="777.40" y="445.00" font-size="16.3" font-weight="normal" fill="#000" stroke="#000" stroke-width="0.25" textLength="18.60" lengthAdjust="spacingAndGlyphs">0.2</text>
<text x="816.60" y="445.00" font-size="16.3" font-weight="normal" fill="#000" stroke="#000" stroke-width="0.25" textLength="18.60" lengthAdjust="spacingAndGlyphs">0.3</text>
<text x="855.70" y="445.00" font-size="16.3" font-weight="normal" fill="#000" stroke="#000" stroke-width="0.25" textLength="18.60" lengthAdjust="spacingAndGlyphs">0.4</text>
<text x="894.50" y="445.00" font-size="16.3" font-weight="normal" fill="#000" stroke="#000" stroke-width="0.25" textLength="18.60" lengthAdjust="spacingAndGlyphs">0.5</text>
<text x="933.40" y="445.00" font-size="16.3" font-weight="normal" fill="#000" stroke="#000" stroke-width="0.25" textLength="18.60" lengthAdjust="spacingAndGlyphs">0.6</text>
<text x="971.80" y="445.00" font-size="16.3" font-weight="normal" fill="#000" stroke="#000" stroke-width="0.25" textLength="18.60" lengthAdjust="spacingAndGlyphs">0.7</text>
<text x="1010.70" y="445.00" font-size="16.3" font-weight="normal" fill="#000" stroke="#000" stroke-width="0.25" textLength="18.60" lengthAdjust="spacingAndGlyphs">0.8</text>
<text x="1049.60" y="445.00" font-size="16.3" font-weight="normal" fill="#000" stroke="#000" stroke-width="0.25" textLength="18.60" lengthAdjust="spacingAndGlyphs">0.9</text>
<text x="1088.60" y="445.00" font-size="16.3" font-weight="normal" fill="#000" stroke="#000" stroke-width="0.25" textLength="18.60" lengthAdjust="spacingAndGlyphs">1.0</text>
<text x="1127.60" y="445.00" font-size="16.3" font-weight="normal" fill="#000" stroke="#000" stroke-width="0.25" textLength="18.60" lengthAdjust="spacingAndGlyphs">1.1</text>
<text x="679.80" y="132.60" font-size="16.5" font-weight="normal" fill="#000" stroke="#000" stroke-width="0.25" textLength="21.00" lengthAdjust="spacingAndGlyphs">100</text>
<text x="686.60" y="226.70" font-size="16.5" font-weight="normal" fill="#000" stroke="#000" stroke-width="0.25" textLength="14.20" lengthAdjust="spacingAndGlyphs">10</text>
<text x="683.30" y="330.70" font-size="16.5" font-weight="normal" fill="#000" stroke="#000" stroke-width="0.25" textLength="17.50" lengthAdjust="spacingAndGlyphs">1.0</text>
<text x="684.50" y="430.80" font-size="16.5" font-weight="normal" fill="#000" stroke="#000" stroke-width="0.25" textLength="16.30" lengthAdjust="spacingAndGlyphs">0.1</text>
<text x="758.80" y="474.00" font-size="15.6" font-weight="normal" fill="#000" stroke="#000" stroke-width="0.25" textLength="327.40" lengthAdjust="spacingAndGlyphs">v<tspan font-size="12.48" dy="3.8">F,</tspan><tspan font-size="15.6" dy="-3.8"> INSTANTANEOUS FORWARD VOLTAGE (VOLTS)</tspan></text>
<text transform="translate(660.70 441.50) rotate(-90)" x="0" y="0" font-size="15.6" stroke="#000" stroke-width="0.25" textLength="328.60" lengthAdjust="spacingAndGlyphs">i<tspan font-size="15.6" dy="8.3">F</tspan><tspan font-size="15.6" dy="-8.3"> , INSTANTANEOUS FORWARD CURRENT (AMPS)</tspan></text>
<text x="768.30" y="517.70" font-size="20.5" font-weight="bold" fill="#000" stroke="#000" stroke-width="0.3" textLength="318.90" lengthAdjust="spacingAndGlyphs">Figure 2. Maximum Forward Voltage</text>
<line x1="224.50" y1="587.20" x2="224.50" y2="886.80" stroke="#000" stroke-width="1"/>
<line x1="260.50" y1="587.20" x2="260.50" y2="886.80" stroke="#000" stroke-width="1"/>
<line x1="296.50" y1="587.20" x2="296.50" y2="886.80" stroke="#000" stroke-width="1"/>
<line x1="331.50" y1="587.20" x2="331.50" y2="886.80" stroke="#000" stroke-width="1"/>
<line x1="367.50" y1="587.20" x2="367.50" y2="886.80" stroke="#000" stroke-width="1"/>
<line x1="402.50" y1="587.20" x2="402.50" y2="886.80" stroke="#000" stroke-width="1"/>
<line x1="438.50" y1="587.20" x2="438.50" y2="886.80" stroke="#000" stroke-width="1"/>
<line x1="474.50" y1="587.20" x2="474.50" y2="886.80" stroke="#000" stroke-width="1"/>
<line x1="509.50" y1="587.20" x2="509.50" y2="886.80" stroke="#000" stroke-width="1"/>
<line x1="545.50" y1="587.20" x2="545.50" y2="886.80" stroke="#000" stroke-width="1"/>
<line x1="580.50" y1="587.20" x2="580.50" y2="886.80" stroke="#000" stroke-width="1"/>
<line x1="189.00" y1="587.50" x2="616.20" y2="587.50" stroke="#000" stroke-width="1"/>
<line x1="189.00" y1="592.50" x2="616.20" y2="592.50" stroke="#000" stroke-width="1"/>
<line x1="189.00" y1="600.50" x2="616.20" y2="600.50" stroke="#000" stroke-width="1"/>
<line x1="189.00" y1="609.50" x2="616.20" y2="609.50" stroke="#000" stroke-width="1"/>
<line x1="189.00" y1="622.50" x2="616.20" y2="622.50" stroke="#000" stroke-width="1"/>
<line x1="189.00" y1="637.50" x2="616.20" y2="637.50" stroke="#000" stroke-width="1"/>
<line x1="189.00" y1="643.50" x2="616.20" y2="643.50" stroke="#000" stroke-width="1"/>
<line x1="189.00" y1="651.50" x2="616.20" y2="651.50" stroke="#000" stroke-width="1"/>
<line x1="189.00" y1="659.50" x2="616.20" y2="659.50" stroke="#000" stroke-width="1"/>
<line x1="189.00" y1="673.50" x2="616.20" y2="673.50" stroke="#000" stroke-width="1"/>
<line x1="189.00" y1="688.50" x2="616.20" y2="688.50" stroke="#000" stroke-width="1"/>
<line x1="189.00" y1="693.50" x2="616.20" y2="693.50" stroke="#000" stroke-width="1"/>
<line x1="189.00" y1="701.50" x2="616.20" y2="701.50" stroke="#000" stroke-width="1"/>
<line x1="189.00" y1="710.50" x2="616.20" y2="710.50" stroke="#000" stroke-width="1"/>
<line x1="189.00" y1="724.50" x2="616.20" y2="724.50" stroke="#000" stroke-width="1"/>
<line x1="189.00" y1="737.50" x2="616.20" y2="737.50" stroke="#000" stroke-width="1"/>
<line x1="189.00" y1="743.50" x2="616.20" y2="743.50" stroke="#000" stroke-width="1"/>
<line x1="189.00" y1="750.50" x2="616.20" y2="750.50" stroke="#000" stroke-width="1"/>
<line x1="189.00" y1="759.50" x2="616.20" y2="759.50" stroke="#000" stroke-width="1"/>
<line x1="189.00" y1="772.50" x2="616.20" y2="772.50" stroke="#000" stroke-width="1"/>
<line x1="189.00" y1="787.50" x2="616.20" y2="787.50" stroke="#000" stroke-width="1"/>
<line x1="189.00" y1="793.50" x2="616.20" y2="793.50" stroke="#000" stroke-width="1"/>
<line x1="189.00" y1="800.50" x2="616.20" y2="800.50" stroke="#000" stroke-width="1"/>
<line x1="189.00" y1="809.50" x2="616.20" y2="809.50" stroke="#000" stroke-width="1"/>
<line x1="189.00" y1="823.50" x2="616.20" y2="823.50" stroke="#000" stroke-width="1"/>
<line x1="189.00" y1="837.50" x2="616.20" y2="837.50" stroke="#000" stroke-width="1"/>
<line x1="189.00" y1="842.50" x2="616.20" y2="842.50" stroke="#000" stroke-width="1"/>
<line x1="189.00" y1="850.50" x2="616.20" y2="850.50" stroke="#000" stroke-width="1"/>
<line x1="189.00" y1="858.50" x2="616.20" y2="858.50" stroke="#000" stroke-width="1"/>
<line x1="189.00" y1="872.50" x2="616.20" y2="872.50" stroke="#000" stroke-width="1"/>
<rect x="347.50" y="676.50" width="76.80" height="20.20" fill="#fff"/>
<rect x="348.50" y="733.50" width="75.80" height="19.70" fill="#fff"/>
<rect x="348.80" y="848.50" width="75.70" height="20.70" fill="#fff"/>
<line x1="616.50" y1="587.20" x2="616.50" y2="886.80" stroke="#000" stroke-width="1"/>
<line x1="189.00" y1="586.20" x2="189.00" y2="887.80" stroke="#000" stroke-width="2"/>
<line x1="188.00" y1="886.80" x2="616.70" y2="886.80" stroke="#000" stroke-width="2"/>
<path d="M189.00,725.31 L191.99,724.76 L194.97,724.23 L197.96,723.70 L200.95,723.19 L203.94,722.68 L206.93,722.19 L209.92,721.70 L212.92,721.22 L215.91,720.75 L218.91,720.29 L221.90,719.84 L224.90,719.39 L227.90,718.96 L230.89,718.53 L233.89,718.11 L236.89,717.69 L239.90,717.29 L242.90,716.89 L245.90,716.50 L248.90,716.11 L251.91,715.74 L254.91,715.37 L257.92,715.00 L260.92,714.65 L263.93,714.30 L266.94,713.95 L269.95,713.61 L272.96,713.28 L275.96,712.96 L278.97,712.64 L281.99,712.32 L285.00,712.02 L288.01,711.71 L291.02,711.41 L294.03,711.12 L297.05,710.83 L300.06,710.55 L303.08,710.27 L306.09,710.00 L309.11,709.73 L312.12,709.47 L315.14,709.20 L318.16,708.95 L321.17,708.70 L324.19,708.45 L327.21,708.20 L330.23,707.96 L333.25,707.72 L336.27,707.49 L339.29,707.25 L342.31,707.03 L345.33,706.80 L348.35,706.58 L351.37,706.35 L354.39,706.14 L357.41,705.92 L360.43,705.71 L363.45,705.49 L366.48,705.28 L369.50,705.08 L372.52,704.87 L375.54,704.66 L378.56,704.46 L381.59,704.26 L384.61,704.06 L387.63,703.86 L390.65,703.66 L393.68,703.46 L396.70,703.26 L399.72,703.06 L402.75,702.86 L405.77,702.66 L408.79,702.47 L411.82,702.27 L414.84,702.07 L417.86,701.87 L420.88,701.67 L423.91,701.47 L426.93,701.27 L429.95,701.07 L432.97,700.87 L436.00,700.66 L439.02,700.46 L442.04,700.25 L445.06,700.04 L448.08,699.83 L451.10,699.62 L454.13,699.41 L457.15,699.19 L460.17,698.97 L463.19,698.75 L466.21,698.53 L469.23,698.30 L472.25,698.07 L475.27,697.84 L478.28,697.61 L481.30,697.37 L484.32,697.13 L487.34,696.88 L490.35,696.63 L493.37,696.38 L496.39,696.12 L499.40,695.86 L502.42,695.60 L505.43,695.33 L508.45,695.06 L511.46,694.78 L514.47,694.50 L517.49,694.21 L520.50,693.92 L523.51,693.62 L526.52,693.31 L529.53,693.01 L532.54,692.69 L535.55,692.37 L538.56,692.05 L541.57,691.72 L544.57,691.38 L547.58,691.03 L550.59,690.68 L553.59,690.33 L556.59,689.96 L559.60,689.59 L562.60,689.22 L565.60,688.83 L568.60,688.44 L571.60,688.05 L574.60,687.64 L577.60,687.23 L580.60,686.81 L583.60,686.38 L586.59,685.94 L589.59,685.50 L592.58,685.04 L595.58,684.58 L598.57,684.11 L601.56,683.63 L604.55,683.15 L607.54,682.65 L610.53,682.14 L613.51,681.63 L616.50,681.11" fill="none" stroke="#000" stroke-width="2.8" stroke-linejoin="round" stroke-linecap="butt"/>
<path d="M189.00,789.20 L191.96,788.48 L194.93,787.78 L197.89,787.09 L200.86,786.41 L203.83,785.75 L206.80,785.10 L209.77,784.46 L212.75,783.83 L215.72,783.22 L218.70,782.61 L221.68,782.02 L224.66,781.44 L227.65,780.87 L230.63,780.32 L233.62,779.77 L236.60,779.24 L239.59,778.71 L242.58,778.20 L245.58,777.69 L248.57,777.20 L251.56,776.72 L254.56,776.24 L257.56,775.78 L260.56,775.32 L263.56,774.88 L266.56,774.44 L269.56,774.01 L272.57,773.60 L275.57,773.18 L278.58,772.78 L281.59,772.39 L284.59,772.00 L287.60,771.62 L290.61,771.25 L293.63,770.89 L296.64,770.53 L299.65,770.18 L302.67,769.84 L305.68,769.50 L308.70,769.17 L311.72,768.85 L314.74,768.53 L317.76,768.22 L320.78,767.91 L323.80,767.61 L326.82,767.31 L329.84,767.02 L332.86,766.74 L335.89,766.45 L338.91,766.18 L341.94,765.91 L344.96,765.64 L347.99,765.37 L351.02,765.11 L354.04,764.86 L357.07,764.60 L360.10,764.35 L363.13,764.11 L366.16,763.86 L369.19,763.62 L372.22,763.38 L375.25,763.15 L378.28,762.91 L381.31,762.68 L384.34,762.45 L387.37,762.22 L390.40,761.99 L393.43,761.77 L396.46,761.54 L399.50,761.32 L402.53,761.09 L405.56,760.87 L408.59,760.65 L411.63,760.42 L414.66,760.20 L417.69,759.98 L420.72,759.75 L423.76,759.53 L426.79,759.30 L429.82,759.08 L432.85,758.85 L435.88,758.62 L438.91,758.39 L441.95,758.16 L444.98,757.92 L448.01,757.69 L451.04,757.45 L454.07,757.21 L457.10,756.96 L460.13,756.71 L463.16,756.46 L466.19,756.21 L469.21,755.95 L472.24,755.69 L475.27,755.43 L478.29,755.16 L481.32,754.89 L484.35,754.61 L487.37,754.33 L490.40,754.05 L493.42,753.75 L496.44,753.46 L499.46,753.16 L502.49,752.85 L505.51,752.54 L508.53,752.22 L511.55,751.90 L514.56,751.56 L517.58,751.23 L520.60,750.88 L523.61,750.53 L526.63,750.18 L529.64,749.81 L532.65,749.44 L535.67,749.06 L538.68,748.67 L541.69,748.28 L544.69,747.88 L547.70,747.47 L550.71,747.05 L553.71,746.62 L556.72,746.18 L559.72,745.73 L562.72,745.28 L565.72,744.81 L568.72,744.34 L571.72,743.86 L574.71,743.36 L577.71,742.86 L580.70,742.34 L583.69,741.82 L586.68,741.28 L589.67,740.74 L592.66,740.18 L595.64,739.61 L598.63,739.03 L601.61,738.44 L604.59,737.84 L607.57,737.22 L610.55,736.59 L613.53,735.95 L616.50,735.30" fill="none" stroke="#000" stroke-width="2.8" stroke-linejoin="round" stroke-linecap="butt"/>
<path d="M217.60,888.10 L220.62,887.89 L223.64,887.68 L226.67,887.47 L229.69,887.26 L232.71,887.04 L235.73,886.83 L238.75,886.61 L241.78,886.39 L244.80,886.16 L247.82,885.94 L250.84,885.71 L253.87,885.49 L256.89,885.26 L259.91,885.02 L262.93,884.79 L265.95,884.55 L268.97,884.32 L272.00,884.08 L275.02,883.83 L278.04,883.59 L281.06,883.34 L284.08,883.09 L287.10,882.84 L290.12,882.59 L293.14,882.33 L296.17,882.07 L299.19,881.81 L302.21,881.55 L305.23,881.28 L308.25,881.02 L311.27,880.74 L314.28,880.47 L317.30,880.19 L320.32,879.92 L323.34,879.63 L326.36,879.35 L329.38,879.06 L332.40,878.77 L335.41,878.48 L338.43,878.18 L341.45,877.89 L344.47,877.58 L347.48,877.28 L350.50,876.97 L353.51,876.66 L356.53,876.35 L359.54,876.03 L362.56,875.71 L365.57,875.39 L368.59,875.06 L371.60,874.74 L374.61,874.40 L377.63,874.07 L380.64,873.73 L383.65,873.39 L386.66,873.04 L389.67,872.69 L392.68,872.34 L395.69,871.98 L398.70,871.62 L401.71,871.26 L404.72,870.89 L407.73,870.52 L410.74,870.15 L413.74,869.77 L416.75,869.39 L419.76,869.00 L422.76,868.61 L425.77,868.22 L428.77,867.82 L431.77,867.42 L434.78,867.02 L437.78,866.61 L440.78,866.20 L443.78,865.78 L446.78,865.36 L449.78,864.93 L452.78,864.50 L455.78,864.07 L458.78,863.63 L461.78,863.19 L464.78,862.75 L467.77,862.30 L470.77,861.84 L473.76,861.38 L476.76,860.92 L479.75,860.45 L482.74,859.98 L485.73,859.51 L488.72,859.02 L491.72,858.54 L494.70,858.05 L497.69,857.55 L500.68,857.05 L503.67,856.55 L506.65,856.04 L509.64,855.53 L512.63,855.01 L515.61,854.49 L518.59,853.96 L521.57,853.43 L524.56,852.89 L527.54,852.35 L530.52,851.80 L533.49,851.25 L536.47,850.69 L539.45,850.13 L542.43,849.56 L545.40,848.98 L548.37,848.41 L551.35,847.82 L554.32,847.23 L557.29,846.64 L560.26,846.04 L563.23,845.44 L566.20,844.83 L569.17,844.21 L572.13,843.59 L575.10,842.96 L578.06,842.33 L581.03,841.69 L583.99,841.05 L586.95,840.40 L589.91,839.75 L592.87,839.09 L595.83,838.42 L598.78,837.75 L601.74,837.07 L604.69,836.39 L607.65,835.70 L610.60,835.01 L613.55,834.31 L616.50,833.60" fill="none" stroke="#000" stroke-width="2.8" stroke-linejoin="round" stroke-linecap="butt"/>
<text x="351.80" y="691.60" font-size="15.6" font-weight="normal" fill="#000" stroke="#000" stroke-width="0.25" textLength="68.40" lengthAdjust="spacingAndGlyphs">T<tspan font-size="11.544" dy="3.4">J</tspan><tspan font-size="15.6" dy="-3.4"> = 150°C</tspan></text>
<text x="352.80" y="748.50" font-size="15.6" font-weight="normal" fill="#000" stroke="#000" stroke-width="0.25" textLength="68.30" lengthAdjust="spacingAndGlyphs">T<tspan font-size="11.544" dy="3.4">J</tspan><tspan font-size="15.6" dy="-3.4"> = 100°C</tspan></text>
<text x="356.60" y="864.20" font-size="15.6" font-weight="normal" fill="#000" stroke="#000" stroke-width="0.25" textLength="61.10" lengthAdjust="spacingAndGlyphs">T<tspan font-size="11.544" dy="3.4">J</tspan><tspan font-size="15.6" dy="-3.4"> = 25°C</tspan></text>
<text x="147.15" y="589.60" font-size="15.5" font-weight="normal" fill="#000" stroke="#000" stroke-width="0.25" textLength="36.15" lengthAdjust="spacingAndGlyphs">10000</text>
<text x="154.50" y="612.00" font-size="15.5" font-weight="normal" fill="#000" stroke="#000" stroke-width="0.25" textLength="28.80" lengthAdjust="spacingAndGlyphs">4000</text>
<text x="154.50" y="626.30" font-size="15.5" font-weight="normal" fill="#000" stroke="#000" stroke-width="0.25" textLength="28.80" lengthAdjust="spacingAndGlyphs">2000</text>
<text x="154.50" y="640.60" font-size="15.5" font-weight="normal" fill="#000" stroke="#000" stroke-width="0.25" textLength="28.80" lengthAdjust="spacingAndGlyphs">1000</text>
<text x="161.85" y="663.20" font-size="15.5" font-weight="normal" fill="#000" stroke="#000" stroke-width="0.25" textLength="21.45" lengthAdjust="spacingAndGlyphs">400</text>
<text x="161.85" y="677.30" font-size="15.5" font-weight="normal" fill="#000" stroke="#000" stroke-width="0.25" textLength="21.45" lengthAdjust="spacingAndGlyphs">200</text>
<text x="161.85" y="689.50" font-size="15.5" font-weight="normal" fill="#000" stroke="#000" stroke-width="0.25" textLength="21.45" lengthAdjust="spacingAndGlyphs">100</text>
<text x="169.20" y="713.60" font-size="15.5" font-weight="normal" fill="#000" stroke="#000" stroke-width="0.25" textLength="14.10" lengthAdjust="spacingAndGlyphs">40</text>
<text x="169.20" y="727.50" font-size="15.5" font-weight="normal" fill="#000" stroke="#000" stroke-width="0.25" textLength="14.10" lengthAdjust="spacingAndGlyphs">20</text>
<text x="169.20" y="741.30" font-size="15.5" font-weight="normal" fill="#000" stroke="#000" stroke-width="0.25" textLength="14.10" lengthAdjust="spacingAndGlyphs">10</text>
<text x="176.55" y="764.80" font-size="15.5" font-weight="normal" fill="#000" stroke="#000" stroke-width="0.25" textLength="6.75" lengthAdjust="spacingAndGlyphs">4</text>
<text x="176.55" y="779.20" font-size="15.5" font-weight="normal" fill="#000" stroke="#000" stroke-width="0.25" textLength="6.75" lengthAdjust="spacingAndGlyphs">2</text>
<text x="177.80" y="793.50" font-size="15.5" font-weight="normal" fill="#000" stroke="#000" stroke-width="0.25" textLength="5.50" lengthAdjust="spacingAndGlyphs">1</text>
<text x="165.20" y="813.80" font-size="15.5" font-weight="normal" fill="#000" stroke="#000" stroke-width="0.25" textLength="18.10" lengthAdjust="spacingAndGlyphs">0.4</text>
<text x="165.20" y="827.50" font-size="15.5" font-weight="normal" fill="#000" stroke="#000" stroke-width="0.25" textLength="18.10" lengthAdjust="spacingAndGlyphs">0.2</text>
<text x="165.20" y="842.00" font-size="15.5" font-weight="normal" fill="#000" stroke="#000" stroke-width="0.25" textLength="18.10" lengthAdjust="spacingAndGlyphs">0.1</text>
<text x="157.85" y="863.60" font-size="15.5" font-weight="normal" fill="#000" stroke="#000" stroke-width="0.25" textLength="25.45" lengthAdjust="spacingAndGlyphs">0.04</text>
<text x="157.85" y="877.90" font-size="15.5" font-weight="normal" fill="#000" stroke="#000" stroke-width="0.25" textLength="25.45" lengthAdjust="spacingAndGlyphs">0.02</text>
<text x="157.85" y="891.40" font-size="15.5" font-weight="normal" fill="#000" stroke="#000" stroke-width="0.25" textLength="25.45" lengthAdjust="spacingAndGlyphs">0.01</text>
<text x="183.90" y="906.80" font-size="15.7" font-weight="normal" fill="#000" stroke="#000" stroke-width="0.25" textLength="7.20" lengthAdjust="spacingAndGlyphs">0</text>
<text x="256.10" y="906.80" font-size="15.7" font-weight="normal" fill="#000" stroke="#000" stroke-width="0.25" textLength="7.20" lengthAdjust="spacingAndGlyphs">5</text>
<text x="327.45" y="906.80" font-size="15.7" font-weight="normal" fill="#000" stroke="#000" stroke-width="0.25" textLength="14.50" lengthAdjust="spacingAndGlyphs">10</text>
<text x="396.75" y="906.80" font-size="15.7" font-weight="normal" fill="#000" stroke="#000" stroke-width="0.25" textLength="14.50" lengthAdjust="spacingAndGlyphs">15</text>
<text x="467.45" y="906.80" font-size="15.7" font-weight="normal" fill="#000" stroke="#000" stroke-width="0.25" textLength="14.50" lengthAdjust="spacingAndGlyphs">20</text>
<text x="538.05" y="906.80" font-size="15.7" font-weight="normal" fill="#000" stroke="#000" stroke-width="0.25" textLength="14.50" lengthAdjust="spacingAndGlyphs">25</text>
<text x="608.95" y="906.80" font-size="15.7" font-weight="normal" fill="#000" stroke="#000" stroke-width="0.25" textLength="14.50" lengthAdjust="spacingAndGlyphs">30</text>
<text x="299.10" y="931.20" font-size="15.6" font-weight="normal" fill="#000" stroke="#000" stroke-width="0.25" textLength="208.30" lengthAdjust="spacingAndGlyphs">V<tspan font-size="12.48" dy="3.8">R</tspan><tspan font-size="15.6" dy="-3.8"> REVERSE VOLTAGE (VOLTS)</tspan></text>
<text transform="translate(138.70 822.00) rotate(-90)" x="0" y="0" font-size="15.6" stroke="#000" stroke-width="0.25" textLength="188.70" lengthAdjust="spacingAndGlyphs">I<tspan font-size="15.6" dy="8.3">R</tspan><tspan font-size="15.6" dy="-8.3"> , REVERSE CURRENT (mA)</tspan></text>
<text x="254.30" y="990.90" font-size="20.5" font-weight="bold" fill="#000" stroke="#000" stroke-width="0.3" textLength="296.70" lengthAdjust="spacingAndGlyphs">Figure 3. Typical Reverse Current</text>
<line x1="761.50" y1="586.50" x2="761.50" y2="887.10" stroke="#000" stroke-width="1"/>
<line x1="815.50" y1="586.50" x2="815.50" y2="887.10" stroke="#000" stroke-width="1"/>
<line x1="868.50" y1="586.50" x2="868.50" y2="887.10" stroke="#000" stroke-width="1"/>
<line x1="922.50" y1="586.50" x2="922.50" y2="887.10" stroke="#000" stroke-width="1"/>
<line x1="975.50" y1="586.50" x2="975.50" y2="887.10" stroke="#000" stroke-width="1"/>
<line x1="1029.50" y1="586.50" x2="1029.50" y2="887.10" stroke="#000" stroke-width="1"/>
<line x1="1083.50" y1="586.50" x2="1083.50" y2="887.10" stroke="#000" stroke-width="1"/>
<line x1="708.80" y1="586.50" x2="1136.50" y2="586.50" stroke="#000" stroke-width="1"/>
<line x1="708.80" y1="616.50" x2="1136.50" y2="616.50" stroke="#000" stroke-width="1"/>
<line x1="708.80" y1="646.50" x2="1136.50" y2="646.50" stroke="#000" stroke-width="1"/>
<line x1="708.80" y1="676.50" x2="1136.50" y2="676.50" stroke="#000" stroke-width="1"/>
<line x1="708.80" y1="706.50" x2="1136.50" y2="706.50" stroke="#000" stroke-width="1"/>
<line x1="708.80" y1="736.50" x2="1136.50" y2="736.50" stroke="#000" stroke-width="1"/>
<line x1="708.80" y1="766.50" x2="1136.50" y2="766.50" stroke="#000" stroke-width="1"/>
<line x1="708.80" y1="796.50" x2="1136.50" y2="796.50" stroke="#000" stroke-width="1"/>
<line x1="708.80" y1="826.50" x2="1136.50" y2="826.50" stroke="#000" stroke-width="1"/>
<line x1="708.80" y1="857.50" x2="1136.50" y2="857.50" stroke="#000" stroke-width="1"/>
<rect x="735.70" y="695.50" width="117.60" height="18.80" fill="#fff"/>
<line x1="1136.50" y1="586.50" x2="1136.50" y2="886.50" stroke="#000" stroke-width="1"/>
<line x1="709.20" y1="585.50" x2="709.20" y2="887.50" stroke="#000" stroke-width="2"/>
<line x1="708.20" y1="886.50" x2="1137.00" y2="886.50" stroke="#000" stroke-width="2"/>
<path d="M709.20,650.50 L934.40,650.50 L936.37,652.83 L938.33,655.16 L940.29,657.50 L942.24,659.84 L944.19,662.18 L946.13,664.53 L948.06,666.89 L949.99,669.25 L951.91,671.61 L953.83,673.98 L955.74,676.36 L957.65,678.73 L959.55,681.12 L961.45,683.50 L963.34,685.90 L965.23,688.29 L967.11,690.69 L968.99,693.09 L970.86,695.50 L972.73,697.91 L974.59,700.33 L976.45,702.75 L978.30,705.18 L980.15,707.61 L981.99,710.04 L983.83,712.47 L985.67,714.92 L987.50,717.36 L989.32,719.81 L991.14,722.26 L992.96,724.72 L994.77,727.18 L996.58,729.64 L998.38,732.11 L1000.18,734.58 L1001.98,737.05 L1003.77,739.53 L1005.55,742.01 L1007.34,744.50 L1009.11,746.99 L1010.89,749.48 L1012.66,751.98 L1014.43,754.47 L1016.19,756.98 L1017.95,759.48 L1019.71,761.99 L1021.46,764.51 L1023.21,767.02 L1024.95,769.54 L1026.69,772.06 L1028.43,774.59 L1030.17,777.12 L1031.90,779.65 L1033.63,782.18 L1035.35,784.72 L1037.06,787.26 L1038.76,789.81 L1040.46,792.37 L1042.14,794.93 L1043.81,797.50 L1045.46,800.07 L1047.11,802.65 L1048.73,805.24 L1050.33,807.84 L1051.92,810.45 L1053.49,813.06 L1055.03,815.69 L1056.55,818.33 L1058.04,820.98 L1059.51,823.64 L1060.95,826.31 L1062.36,829.00 L1063.75,831.69 L1065.10,834.40 L1066.42,837.13 L1067.70,839.87 L1068.95,842.63 L1070.16,845.40 L1071.33,848.18 L1072.47,850.99 L1073.56,853.81 L1074.61,856.64 L1075.62,859.50 L1076.58,862.38 L1077.50,865.27 L1078.37,868.18 L1079.19,871.11 L1079.96,874.07 L1080.67,877.04 L1081.34,880.04 L1081.95,883.06 L1082.51,886.10" fill="none" stroke="#000" stroke-width="3" stroke-linejoin="round" stroke-linecap="butt"/>
<path d="M709.20,721.30 L971.20,721.30 L973.19,723.60 L975.17,725.91 L977.16,728.23 L979.14,730.55 L981.12,732.87 L983.10,735.20 L985.08,737.53 L987.06,739.87 L989.03,742.22 L991.00,744.57 L992.96,746.92 L994.92,749.29 L996.88,751.65 L998.83,754.03 L1000.78,756.41 L1002.71,758.79 L1004.65,761.18 L1006.57,763.58 L1008.49,765.99 L1010.40,768.40 L1012.31,770.82 L1014.20,773.25 L1016.09,775.68 L1017.97,778.12 L1019.84,780.57 L1021.69,783.02 L1023.54,785.49 L1025.38,787.96 L1027.20,790.43 L1029.02,792.92 L1030.82,795.41 L1032.61,797.92 L1034.39,800.43 L1036.15,802.94 L1037.91,805.47 L1039.64,808.01 L1041.36,810.55 L1043.07,813.11 L1044.77,815.67 L1046.44,818.24 L1048.10,820.82 L1049.75,823.41 L1051.38,826.01 L1052.99,828.62 L1054.58,831.24 L1056.15,833.87 L1057.71,836.51 L1059.24,839.16 L1060.76,841.82 L1062.25,844.50 L1063.72,847.18 L1065.17,849.88 L1066.60,852.59 L1068.00,855.31 L1069.38,858.04 L1070.73,860.79 L1072.06,863.54 L1073.36,866.31 L1074.64,869.10 L1075.89,871.90 L1077.11,874.71 L1078.30,877.53 L1079.46,880.37 L1080.60,883.23 L1081.70,886.10" fill="none" stroke="#000" stroke-width="3" stroke-linejoin="round" stroke-linecap="butt"/>
<text x="780.80" y="640.10" font-size="15.6" font-weight="normal" fill="#000" stroke="#000" stroke-width="0.25" textLength="14.90" lengthAdjust="spacingAndGlyphs">dc</text>
<text x="744.70" y="710.90" font-size="15.6" font-weight="normal" fill="#000" stroke="#000" stroke-width="0.25" textLength="99.60" lengthAdjust="spacingAndGlyphs">SQUARE WAVE</text>
<text x="686.30" y="588.70" font-size="15.7" font-weight="normal" fill="#000" stroke="#000" stroke-width="0.25" textLength="14.30" lengthAdjust="spacingAndGlyphs">20</text>
<text x="686.30" y="618.70" font-size="15.7" font-weight="normal" fill="#000" stroke="#000" stroke-width="0.25" textLength="14.30" lengthAdjust="spacingAndGlyphs">18</text>
<text x="686.30" y="648.70" font-size="15.7" font-weight="normal" fill="#000" stroke="#000" stroke-width="0.25" textLength="14.30" lengthAdjust="spacingAndGlyphs">16</text>
<text x="686.30" y="678.70" font-size="15.7" font-weight="normal" fill="#000" stroke="#000" stroke-width="0.25" textLength="14.30" lengthAdjust="spacingAndGlyphs">14</text>
<text x="686.30" y="708.70" font-size="15.7" font-weight="normal" fill="#000" stroke="#000" stroke-width="0.25" textLength="14.30" lengthAdjust="spacingAndGlyphs">12</text>
<text x="686.30" y="738.70" font-size="15.7" font-weight="normal" fill="#000" stroke="#000" stroke-width="0.25" textLength="14.30" lengthAdjust="spacingAndGlyphs">10</text>
<text x="682.40" y="768.70" font-size="15.7" font-weight="normal" fill="#000" stroke="#000" stroke-width="0.25" textLength="18.20" lengthAdjust="spacingAndGlyphs">8.0</text>
<text x="682.40" y="798.70" font-size="15.7" font-weight="normal" fill="#000" stroke="#000" stroke-width="0.25" textLength="18.20" lengthAdjust="spacingAndGlyphs">6.0</text>
<text x="682.40" y="828.70" font-size="15.7" font-weight="normal" fill="#000" stroke="#000" stroke-width="0.25" textLength="18.20" lengthAdjust="spacingAndGlyphs">4.0</text>
<text x="682.40" y="858.70" font-size="15.7" font-weight="normal" fill="#000" stroke="#000" stroke-width="0.25" textLength="18.20" lengthAdjust="spacingAndGlyphs">2.0</text>
<text x="693.60" y="888.70" font-size="15.7" font-weight="normal" fill="#000" stroke="#000" stroke-width="0.25" textLength="7.00" lengthAdjust="spacingAndGlyphs">0</text>
<text x="699.10" y="905.00" font-size="15.7" font-weight="normal" fill="#000" stroke="#000" stroke-width="0.25" textLength="21.20" lengthAdjust="spacingAndGlyphs">140</text>
<text x="752.51" y="905.00" font-size="15.7" font-weight="normal" fill="#000" stroke="#000" stroke-width="0.25" textLength="21.20" lengthAdjust="spacingAndGlyphs">145</text>
<text x="805.93" y="905.00" font-size="15.7" font-weight="normal" fill="#000" stroke="#000" stroke-width="0.25" textLength="21.20" lengthAdjust="spacingAndGlyphs">150</text>
<text x="859.34" y="905.00" font-size="15.7" font-weight="normal" fill="#000" stroke="#000" stroke-width="0.25" textLength="21.20" lengthAdjust="spacingAndGlyphs">155</text>
<text x="912.75" y="905.00" font-size="15.7" font-weight="normal" fill="#000" stroke="#000" stroke-width="0.25" textLength="21.20" lengthAdjust="spacingAndGlyphs">160</text>
<text x="966.16" y="905.00" font-size="15.7" font-weight="normal" fill="#000" stroke="#000" stroke-width="0.25" textLength="21.20" lengthAdjust="spacingAndGlyphs">165</text>
<text x="1019.57" y="905.00" font-size="15.7" font-weight="normal" fill="#000" stroke="#000" stroke-width="0.25" textLength="21.20" lengthAdjust="spacingAndGlyphs">170</text>
<text x="1072.99" y="905.00" font-size="15.7" font-weight="normal" fill="#000" stroke="#000" stroke-width="0.25" textLength="21.20" lengthAdjust="spacingAndGlyphs">175</text>
<text x="1126.40" y="905.00" font-size="15.7" font-weight="normal" fill="#000" stroke="#000" stroke-width="0.25" textLength="21.20" lengthAdjust="spacingAndGlyphs">180</text>
<text x="827.60" y="935.00" font-size="15.6" font-weight="normal" fill="#000" stroke="#000" stroke-width="0.25" textLength="195.60" lengthAdjust="spacingAndGlyphs">T<tspan font-size="12.48" dy="3.8">C</tspan><tspan font-size="15.6" dy="-3.8">, CASE TEMPERATURE (C°)</tspan></text>
<text transform="translate(661.70 887.30) rotate(-90)" x="0" y="0" font-size="15.6" stroke="#000" stroke-width="0.25" textLength="309.00" lengthAdjust="spacingAndGlyphs">I<tspan font-size="15.6" dy="8.3">F (AV)</tspan><tspan font-size="15.6" dy="-8.3">, AVERAGE FORWARD CURRENT (AMPS)</tspan></text>
<text x="743.30" y="988.40" font-size="20.5" font-weight="bold" fill="#000" stroke="#000" stroke-width="0.3" textLength="360.00" lengthAdjust="spacingAndGlyphs">Figure 4. Current Derating, Case Per Leg</text>
<line x1="244.50" y1="1068.50" x2="244.50" y2="1368.80" stroke="#000" stroke-width="1"/>
<line x1="305.50" y1="1068.50" x2="305.50" y2="1368.80" stroke="#000" stroke-width="1"/>
<line x1="367.50" y1="1068.50" x2="367.50" y2="1368.80" stroke="#000" stroke-width="1"/>
<line x1="428.50" y1="1068.50" x2="428.50" y2="1368.80" stroke="#000" stroke-width="1"/>
<line x1="489.50" y1="1068.50" x2="489.50" y2="1368.80" stroke="#000" stroke-width="1"/>
<line x1="550.50" y1="1068.50" x2="550.50" y2="1368.80" stroke="#000" stroke-width="1"/>
<line x1="184.30" y1="1068.50" x2="611.30" y2="1068.50" stroke="#000" stroke-width="1"/>
<line x1="184.30" y1="1098.50" x2="611.30" y2="1098.50" stroke="#000" stroke-width="1"/>
<line x1="184.30" y1="1128.50" x2="611.30" y2="1128.50" stroke="#000" stroke-width="1"/>
<line x1="184.30" y1="1158.50" x2="611.30" y2="1158.50" stroke="#000" stroke-width="1"/>
<line x1="184.30" y1="1188.92" x2="611.30" y2="1188.92" stroke="#4a4a4a" stroke-width="1.5"/>
<line x1="184.30" y1="1218.50" x2="611.30" y2="1218.50" stroke="#000" stroke-width="1"/>
<line x1="184.30" y1="1248.50" x2="611.30" y2="1248.50" stroke="#000" stroke-width="1"/>
<line x1="184.30" y1="1278.50" x2="611.30" y2="1278.50" stroke="#000" stroke-width="1"/>
<line x1="184.30" y1="1308.50" x2="611.30" y2="1308.50" stroke="#000" stroke-width="1"/>
<line x1="184.30" y1="1338.50" x2="611.30" y2="1338.50" stroke="#000" stroke-width="1"/>
<rect x="411.90" y="1074.70" width="185.00" height="25.90" fill="#fff"/>
<rect x="474.20" y="1105.70" width="110.80" height="66.50" fill="#fff"/>
<rect x="275.00" y="1214.00" width="116.20" height="20.40" fill="#fff"/>
<line x1="611.50" y1="1068.50" x2="611.50" y2="1368.80" stroke="#000" stroke-width="1"/>
<line x1="184.30" y1="1067.50" x2="184.30" y2="1369.80" stroke="#000" stroke-width="2"/>
<line x1="183.30" y1="1368.80" x2="611.80" y2="1368.80" stroke="#000" stroke-width="2"/>
<path d="M184.30,1131.30 L348.60,1131.30 L351.09,1133.02 L353.57,1134.74 L356.06,1136.46 L358.55,1138.19 L361.03,1139.92 L363.51,1141.65 L365.99,1143.38 L368.47,1145.12 L370.95,1146.87 L373.43,1148.61 L375.91,1150.36 L378.38,1152.11 L380.85,1153.87 L383.32,1155.63 L385.79,1157.39 L388.25,1159.16 L390.72,1160.93 L393.18,1162.71 L395.64,1164.49 L398.10,1166.27 L400.55,1168.06 L403.00,1169.85 L405.45,1171.64 L407.90,1173.44 L410.34,1175.25 L412.78,1177.06 L415.22,1178.87 L417.65,1180.69 L420.08,1182.51 L422.51,1184.33 L424.93,1186.17 L427.35,1188.00 L429.77,1189.84 L432.18,1191.69 L434.59,1193.54 L437.00,1195.39 L439.40,1197.25 L441.80,1199.12 L444.19,1200.99 L446.58,1202.87 L448.97,1204.75 L451.35,1206.64 L453.73,1208.53 L456.10,1210.42 L458.47,1212.33 L460.83,1214.24 L463.19,1216.15 L465.54,1218.07 L467.89,1220.00 L470.23,1221.93 L472.57,1223.86 L474.90,1225.81 L477.23,1227.76 L479.55,1229.71 L481.87,1231.67 L484.18,1233.64 L486.48,1235.61 L488.78,1237.59 L491.08,1239.58 L493.37,1241.57 L495.65,1243.57 L497.92,1245.58 L500.19,1247.59 L502.46,1249.61 L504.71,1251.63 L506.96,1253.66 L509.21,1255.70 L511.45,1257.75 L513.68,1259.80 L515.90,1261.86 L518.12,1263.93 L520.33,1266.00 L522.53,1268.08 L524.73,1270.17 L526.92,1272.26 L529.10,1274.37 L531.27,1276.48 L533.44,1278.59 L535.60,1280.72 L537.75,1282.85 L539.89,1284.99 L542.03,1287.14 L544.16,1289.29 L546.28,1291.46 L548.39,1293.63 L550.50,1295.81 L552.59,1297.99 L554.68,1300.19 L556.76,1302.39 L558.83,1304.60 L560.89,1306.82 L562.94,1309.05 L564.99,1311.29 L567.02,1313.53 L569.05,1315.78 L571.07,1318.05 L573.08,1320.32 L575.08,1322.59 L577.07,1324.88 L579.05,1327.18 L581.02,1329.48 L582.98,1331.80 L584.93,1334.12 L586.87,1336.45 L588.81,1338.79 L590.73,1341.14 L592.64,1343.50 L594.54,1345.87 L596.44,1348.24 L598.32,1350.63 L600.19,1353.03 L602.05,1355.43 L603.90,1357.85 L605.74,1360.27 L607.57,1362.70 L609.39,1365.15 L611.20,1367.60" fill="none" stroke="#000" stroke-width="3" stroke-linejoin="round" stroke-linecap="butt"/>
<path d="M184.30,1202.50 L412.50,1202.50 L414.99,1204.24 L417.48,1205.98 L419.97,1207.72 L422.46,1209.46 L424.95,1211.20 L427.45,1212.94 L429.95,1214.68 L432.44,1216.42 L434.94,1218.17 L437.44,1219.91 L439.94,1221.65 L442.45,1223.39 L444.95,1225.14 L447.45,1226.89 L449.95,1228.64 L452.45,1230.39 L454.95,1232.14 L457.45,1233.90 L459.94,1235.66 L462.44,1237.42 L464.94,1239.18 L467.43,1240.95 L469.92,1242.72 L472.41,1244.50 L474.89,1246.27 L477.37,1248.06 L479.85,1249.84 L482.33,1251.63 L484.80,1253.43 L487.27,1255.23 L489.74,1257.04 L492.20,1258.85 L494.66,1260.66 L497.11,1262.49 L499.56,1264.31 L502.01,1266.15 L504.44,1267.99 L506.88,1269.83 L509.30,1271.69 L511.73,1273.55 L514.14,1275.41 L516.55,1277.29 L518.96,1279.17 L521.35,1281.06 L523.74,1282.96 L526.12,1284.86 L528.50,1286.78 L530.87,1288.70 L533.23,1290.63 L535.58,1292.57 L537.92,1294.52 L540.26,1296.48 L542.59,1298.44 L544.90,1300.42 L547.21,1302.41 L549.51,1304.40 L551.80,1306.41 L554.08,1308.43 L556.35,1310.46 L558.62,1312.50 L560.87,1314.55 L563.11,1316.61 L565.33,1318.68 L567.55,1320.77 L569.76,1322.86 L571.95,1324.97 L574.14,1327.09 L576.31,1329.23 L578.47,1331.37 L580.62,1333.53 L582.75,1335.70 L584.87,1337.89 L586.98,1340.09 L589.08,1342.30 L591.16,1344.53 L593.23,1346.77 L595.28,1349.02 L597.33,1351.29 L599.35,1353.58 L601.36,1355.87 L603.36,1358.19 L605.34,1360.52 L607.31,1362.86 L609.26,1365.22 L611.20,1367.60" fill="none" stroke="#000" stroke-width="3" stroke-linejoin="round" stroke-linecap="butt"/>
<path d="M184.30,1243.60 L187.25,1244.25 L190.21,1244.90 L193.16,1245.56 L196.11,1246.22 L199.06,1246.88 L202.01,1247.55 L204.96,1248.22 L207.91,1248.90 L210.85,1249.57 L213.80,1250.25 L216.75,1250.94 L219.69,1251.62 L222.63,1252.32 L225.58,1253.01 L228.52,1253.71 L231.46,1254.41 L234.40,1255.11 L237.34,1255.82 L240.28,1256.52 L243.22,1257.24 L246.16,1257.95 L249.10,1258.67 L252.03,1259.39 L254.97,1260.12 L257.90,1260.85 L260.84,1261.58 L263.77,1262.31 L266.70,1263.05 L269.64,1263.79 L272.57,1264.53 L275.50,1265.28 L278.43,1266.02 L281.36,1266.78 L284.29,1267.53 L287.21,1268.29 L290.14,1269.05 L293.07,1269.81 L295.99,1270.58 L298.92,1271.34 L301.84,1272.12 L304.77,1272.89 L307.69,1273.67 L310.61,1274.45 L313.53,1275.23 L316.45,1276.01 L319.37,1276.80 L322.29,1277.59 L325.21,1278.38 L328.13,1279.18 L331.05,1279.98 L333.96,1280.78 L336.88,1281.58 L339.79,1282.38 L342.71,1283.19 L345.62,1284.00 L348.54,1284.82 L351.45,1285.63 L354.36,1286.45 L357.27,1287.27 L360.18,1288.09 L363.09,1288.92 L366.00,1289.75 L368.91,1290.58 L371.82,1291.41 L374.73,1292.24 L377.63,1293.08 L380.54,1293.92 L383.45,1294.76 L386.35,1295.60 L389.26,1296.45 L392.16,1297.30 L395.06,1298.15 L397.97,1299.00 L400.87,1299.86 L403.77,1300.71 L406.67,1301.57 L409.57,1302.44 L412.47,1303.30 L415.37,1304.16 L418.27,1305.03 L421.16,1305.90 L424.06,1306.77 L426.96,1307.65 L429.85,1308.52 L432.75,1309.40 L435.64,1310.28 L438.54,1311.16 L441.43,1312.05 L444.32,1312.93 L447.22,1313.82 L450.11,1314.71 L453.00,1315.60 L455.89,1316.49 L458.78,1317.39 L461.67,1318.28 L464.56,1319.18 L467.45,1320.08 L470.33,1320.99 L473.22,1321.89 L476.11,1322.80 L478.99,1323.70 L481.88,1324.61 L484.76,1325.52 L487.65,1326.43 L490.53,1327.35 L493.42,1328.26 L496.30,1329.18 L499.18,1330.10 L502.06,1331.02 L504.94,1331.94 L507.83,1332.87 L510.71,1333.79 L513.59,1334.72 L516.46,1335.65 L519.34,1336.58 L522.22,1337.51 L525.10,1338.44 L527.98,1339.37 L530.85,1340.31 L533.73,1341.25 L536.60,1342.18 L539.48,1343.12 L542.35,1344.06 L545.23,1345.01 L548.10,1345.95 L550.97,1346.89 L553.85,1347.84 L556.72,1348.79 L559.59,1349.73 L562.46,1350.68 L565.33,1351.64 L568.20,1352.59 L571.07,1353.54 L573.94,1354.49 L576.81,1355.45 L579.68,1356.41 L582.55,1357.36 L585.41,1358.32 L588.28,1359.28 L591.15,1360.24 L594.01,1361.21 L596.88,1362.17 L599.74,1363.13 L602.61,1364.10 L605.47,1365.06 L608.34,1366.03 L611.20,1367.00" fill="none" stroke="#000" stroke-width="3" stroke-linejoin="round" stroke-linecap="butt" stroke-dasharray="17.3 4.8" stroke-dashoffset="-3"/>
<path d="M184.30,1262.90 L187.27,1263.51 L190.24,1264.13 L193.20,1264.74 L196.17,1265.36 L199.14,1265.98 L202.10,1266.60 L205.07,1267.22 L208.04,1267.84 L211.00,1268.46 L213.97,1269.09 L216.94,1269.71 L219.90,1270.33 L222.87,1270.96 L225.83,1271.59 L228.80,1272.21 L231.76,1272.84 L234.73,1273.47 L237.69,1274.10 L240.66,1274.73 L243.62,1275.37 L246.59,1276.00 L249.55,1276.64 L252.51,1277.27 L255.48,1277.91 L258.44,1278.55 L261.40,1279.19 L264.37,1279.83 L267.33,1280.47 L270.29,1281.11 L273.26,1281.76 L276.22,1282.40 L279.18,1283.05 L282.14,1283.69 L285.10,1284.34 L288.06,1284.99 L291.02,1285.64 L293.98,1286.30 L296.94,1286.95 L299.90,1287.61 L302.86,1288.26 L305.82,1288.92 L308.78,1289.58 L311.74,1290.24 L314.70,1290.90 L317.66,1291.57 L320.62,1292.23 L323.57,1292.90 L326.53,1293.56 L329.49,1294.23 L332.44,1294.90 L335.40,1295.57 L338.36,1296.25 L341.31,1296.92 L344.27,1297.60 L347.22,1298.28 L350.18,1298.96 L353.13,1299.64 L356.09,1300.32 L359.04,1301.00 L361.99,1301.69 L364.94,1302.37 L367.90,1303.06 L370.85,1303.75 L373.80,1304.44 L376.75,1305.14 L379.70,1305.83 L382.65,1306.53 L385.60,1307.23 L388.55,1307.93 L391.50,1308.63 L394.45,1309.33 L397.40,1310.04 L400.35,1310.74 L403.29,1311.45 L406.24,1312.16 L409.19,1312.88 L412.13,1313.59 L415.08,1314.31 L418.02,1315.02 L420.97,1315.74 L423.91,1316.46 L426.86,1317.19 L429.80,1317.91 L432.74,1318.64 L435.69,1319.37 L438.63,1320.10 L441.57,1320.83 L444.51,1321.56 L447.45,1322.30 L450.39,1323.04 L453.33,1323.78 L456.27,1324.52 L459.21,1325.26 L462.15,1326.01 L465.08,1326.76 L468.02,1327.51 L470.96,1328.26 L473.89,1329.01 L476.83,1329.77 L479.76,1330.53 L482.70,1331.29 L485.63,1332.05 L488.57,1332.82 L491.50,1333.58 L494.43,1334.35 L497.36,1335.12 L500.29,1335.90 L503.22,1336.67 L506.15,1337.45 L509.08,1338.23 L512.01,1339.01 L514.94,1339.79 L517.87,1340.58 L520.79,1341.37 L523.72,1342.16 L526.64,1342.95 L529.57,1343.75 L532.49,1344.55 L535.42,1345.35 L538.34,1346.15 L541.26,1346.95 L544.18,1347.76 L547.11,1348.57 L550.03,1349.38 L552.95,1350.20 L555.86,1351.01 L558.78,1351.83 L561.70,1352.65 L564.62,1353.48 L567.54,1354.30 L570.45,1355.13 L573.37,1355.96 L576.28,1356.80 L579.19,1357.63 L582.11,1358.47 L585.02,1359.31 L587.93,1360.16 L590.84,1361.00 L593.75,1361.85 L596.66,1362.70 L599.57,1363.56 L602.48,1364.41 L605.39,1365.27 L608.29,1366.14 L611.20,1367.00" fill="none" stroke="#000" stroke-width="3" stroke-linejoin="round" stroke-linecap="butt" stroke-dasharray="17.3 4.8" stroke-dashoffset="-3"/>
<line x1="429.30" y1="1117.20" x2="474.20" y2="1117.20" stroke="#000" stroke-width="3"/>
<line x1="429.30" y1="1137.40" x2="449.20" y2="1137.40" stroke="#000" stroke-width="3"/>
<line x1="454.40" y1="1137.40" x2="474.20" y2="1137.40" stroke="#000" stroke-width="3"/>
<text x="418.20" y="1092.80" font-size="15.6" font-weight="normal" fill="#000" stroke="#000" stroke-width="0.25" textLength="172.00" lengthAdjust="spacingAndGlyphs">RATED VOLTAGE APPLIED</text>
<text x="481.00" y="1121.80" font-size="15.6" font-weight="normal" fill="#000" stroke="#000" stroke-width="0.25" textLength="97.10" lengthAdjust="spacingAndGlyphs">R<tspan font-size="11.544" dy="3.4">θJA</tspan><tspan font-size="15.6" dy="-3.4"> = 16° C/W</tspan></text>
<text x="485.00" y="1146.00" font-size="15.6" font-weight="normal" fill="#000" stroke="#000" stroke-width="0.25" textLength="97.40" lengthAdjust="spacingAndGlyphs">R<tspan font-size="11.544" dy="3.4">θJA</tspan><tspan font-size="15.6" dy="-3.4"> = 60° C/W</tspan></text>
<text x="482.10" y="1166.10" font-size="15.6" font-weight="normal" fill="#000" stroke="#000" stroke-width="0.25" textLength="99.50" lengthAdjust="spacingAndGlyphs">(NO HEATSINK)</text>
<text x="197.30" y="1121.70" font-size="15.6" font-weight="normal" fill="#000" stroke="#000" stroke-width="0.25" textLength="14.70" lengthAdjust="spacingAndGlyphs">dc</text>
<text x="198.60" y="1235.40" font-size="15.6" font-weight="normal" fill="#000" stroke="#000" stroke-width="0.25" textLength="14.60" lengthAdjust="spacingAndGlyphs">dc</text>
<text x="283.40" y="1230.60" font-size="15.6" font-weight="normal" fill="#000" stroke="#000" stroke-width="0.25" textLength="100.10" lengthAdjust="spacingAndGlyphs">SQUARE WAVE</text>
<line x1="388.70" y1="1225.20" x2="409.41" y2="1212.83" stroke="#000" stroke-width="1.1"/>
<polygon points="418.00,1207.70 409.44,1216.77 405.95,1210.93" fill="#000"/>
<line x1="388.70" y1="1225.20" x2="399.55" y2="1299.11" stroke="#000" stroke-width="1.1"/>
<polygon points="401.00,1309.00 395.89,1297.62 402.62,1296.63" fill="#000"/>
<text x="163.00" y="1069.80" font-size="15.7" font-weight="normal" fill="#000" stroke="#000" stroke-width="0.25" textLength="14.30" lengthAdjust="spacingAndGlyphs">20</text>
<text x="163.00" y="1100.36" font-size="15.7" font-weight="normal" fill="#000" stroke="#000" stroke-width="0.25" textLength="14.30" lengthAdjust="spacingAndGlyphs">18</text>
<text x="163.00" y="1130.92" font-size="15.7" font-weight="normal" fill="#000" stroke="#000" stroke-width="0.25" textLength="14.30" lengthAdjust="spacingAndGlyphs">16</text>
<text x="163.00" y="1161.48" font-size="15.7" font-weight="normal" fill="#000" stroke="#000" stroke-width="0.25" textLength="14.30" lengthAdjust="spacingAndGlyphs">14</text>
<text x="163.00" y="1192.04" font-size="15.7" font-weight="normal" fill="#000" stroke="#000" stroke-width="0.25" textLength="14.30" lengthAdjust="spacingAndGlyphs">12</text>
<text x="163.00" y="1222.60" font-size="15.7" font-weight="normal" fill="#000" stroke="#000" stroke-width="0.25" textLength="14.30" lengthAdjust="spacingAndGlyphs">10</text>
<text x="159.10" y="1253.16" font-size="15.7" font-weight="normal" fill="#000" stroke="#000" stroke-width="0.25" textLength="18.20" lengthAdjust="spacingAndGlyphs">8.0</text>
<text x="159.10" y="1283.72" font-size="15.7" font-weight="normal" fill="#000" stroke="#000" stroke-width="0.25" textLength="18.20" lengthAdjust="spacingAndGlyphs">6.0</text>
<text x="159.10" y="1314.28" font-size="15.7" font-weight="normal" fill="#000" stroke="#000" stroke-width="0.25" textLength="18.20" lengthAdjust="spacingAndGlyphs">4.0</text>
<text x="159.10" y="1344.84" font-size="15.7" font-weight="normal" fill="#000" stroke="#000" stroke-width="0.25" textLength="18.20" lengthAdjust="spacingAndGlyphs">2.0</text>
<text x="170.30" y="1375.40" font-size="15.7" font-weight="normal" fill="#000" stroke="#000" stroke-width="0.25" textLength="7.00" lengthAdjust="spacingAndGlyphs">0</text>
<text x="182.70" y="1388.00" font-size="15.7" font-weight="normal" fill="#000" stroke="#000" stroke-width="0.25" textLength="7.00" lengthAdjust="spacingAndGlyphs">0</text>
<text x="238.10" y="1388.00" font-size="15.7" font-weight="normal" fill="#000" stroke="#000" stroke-width="0.25" textLength="14.80" lengthAdjust="spacingAndGlyphs">25</text>
<text x="297.00" y="1388.00" font-size="15.7" font-weight="normal" fill="#000" stroke="#000" stroke-width="0.25" textLength="14.80" lengthAdjust="spacingAndGlyphs">50</text>
<text x="359.50" y="1388.00" font-size="15.7" font-weight="normal" fill="#000" stroke="#000" stroke-width="0.25" textLength="14.80" lengthAdjust="spacingAndGlyphs">75</text>
<text x="417.85" y="1388.00" font-size="15.7" font-weight="normal" fill="#000" stroke="#000" stroke-width="0.25" textLength="21.30" lengthAdjust="spacingAndGlyphs">100</text>
<text x="478.85" y="1388.00" font-size="15.7" font-weight="normal" fill="#000" stroke="#000" stroke-width="0.25" textLength="21.30" lengthAdjust="spacingAndGlyphs">125</text>
<text x="541.85" y="1388.00" font-size="15.7" font-weight="normal" fill="#000" stroke="#000" stroke-width="0.25" textLength="21.30" lengthAdjust="spacingAndGlyphs">150</text>
<text x="600.65" y="1388.00" font-size="15.7" font-weight="normal" fill="#000" stroke="#000" stroke-width="0.25" textLength="21.30" lengthAdjust="spacingAndGlyphs">175</text>
<text x="294.20" y="1421.10" font-size="15.6" font-weight="normal" fill="#000" stroke="#000" stroke-width="0.25" textLength="217.20" lengthAdjust="spacingAndGlyphs">T<tspan font-size="12.48" dy="3.8">A</tspan><tspan font-size="15.6" dy="-3.8">, AMBIENT TEMPERATURE (°C)</tspan></text>
<text transform="translate(137.60 1377.10) rotate(-90)" x="0" y="0" font-size="15.6" stroke="#000" stroke-width="0.25" textLength="314.10" lengthAdjust="spacingAndGlyphs">I<tspan font-size="15.6" dy="8.3">F (AV)</tspan><tspan font-size="15.6" dy="-8.3">, AVERAGE FORWARD CURRENT (AMPS)</tspan></text>
<text x="190.40" y="1468.00" font-size="20.5" font-weight="bold" fill="#000" stroke="#000" stroke-width="0.3" textLength="390.30" lengthAdjust="spacingAndGlyphs">Figure 5. Current Derating, Ambient Per Leg</text>
<line x1="737.50" y1="1068.60" x2="737.50" y2="1368.70" stroke="#000" stroke-width="1"/>
<line x1="766.50" y1="1068.60" x2="766.50" y2="1368.70" stroke="#000" stroke-width="1"/>
<line x1="794.50" y1="1068.60" x2="794.50" y2="1368.70" stroke="#000" stroke-width="1"/>
<line x1="823.50" y1="1068.60" x2="823.50" y2="1368.70" stroke="#000" stroke-width="1"/>
<line x1="851.50" y1="1068.60" x2="851.50" y2="1368.70" stroke="#000" stroke-width="1"/>
<line x1="880.50" y1="1068.60" x2="880.50" y2="1368.70" stroke="#000" stroke-width="1"/>
<line x1="908.50" y1="1068.60" x2="908.50" y2="1368.70" stroke="#000" stroke-width="1"/>
<line x1="937.50" y1="1068.60" x2="937.50" y2="1368.70" stroke="#000" stroke-width="1"/>
<line x1="965.50" y1="1068.60" x2="965.50" y2="1368.70" stroke="#000" stroke-width="1"/>
<line x1="994.50" y1="1068.60" x2="994.50" y2="1368.70" stroke="#000" stroke-width="1"/>
<line x1="1022.50" y1="1068.60" x2="1022.50" y2="1368.70" stroke="#000" stroke-width="1"/>
<line x1="1051.50" y1="1068.60" x2="1051.50" y2="1368.70" stroke="#000" stroke-width="1"/>
<line x1="1079.50" y1="1068.60" x2="1079.50" y2="1368.70" stroke="#000" stroke-width="1"/>
<line x1="1108.50" y1="1068.60" x2="1108.50" y2="1368.70" stroke="#000" stroke-width="1"/>
<line x1="709.10" y1="1068.50" x2="1136.70" y2="1068.50" stroke="#000" stroke-width="1"/>
<line x1="709.10" y1="1088.50" x2="1136.70" y2="1088.50" stroke="#000" stroke-width="1"/>
<line x1="709.10" y1="1108.50" x2="1136.70" y2="1108.50" stroke="#000" stroke-width="1"/>
<line x1="709.10" y1="1128.50" x2="1136.70" y2="1128.50" stroke="#000" stroke-width="1"/>
<line x1="709.10" y1="1148.50" x2="1136.70" y2="1148.50" stroke="#000" stroke-width="1"/>
<line x1="709.10" y1="1168.50" x2="1136.70" y2="1168.50" stroke="#000" stroke-width="1"/>
<line x1="709.10" y1="1188.50" x2="1136.70" y2="1188.50" stroke="#000" stroke-width="1"/>
<line x1="709.10" y1="1208.50" x2="1136.70" y2="1208.50" stroke="#000" stroke-width="1"/>
<line x1="709.10" y1="1228.50" x2="1136.70" y2="1228.50" stroke="#000" stroke-width="1"/>
<line x1="709.10" y1="1248.50" x2="1136.70" y2="1248.50" stroke="#000" stroke-width="1"/>
<line x1="709.10" y1="1268.50" x2="1136.70" y2="1268.50" stroke="#000" stroke-width="1"/>
<line x1="709.10" y1="1288.50" x2="1136.70" y2="1288.50" stroke="#000" stroke-width="1"/>
<line x1="709.10" y1="1308.50" x2="1136.70" y2="1308.50" stroke="#000" stroke-width="1"/>
<line x1="709.10" y1="1328.50" x2="1136.70" y2="1328.50" stroke="#000" stroke-width="1"/>
<line x1="709.10" y1="1348.50" x2="1136.70" y2="1348.50" stroke="#000" stroke-width="1"/>
<rect x="719.00" y="1083.50" width="83.10" height="21.40" fill="#fff"/>
<rect x="999.80" y="1135.80" width="112.50" height="20.50" fill="#fff"/>
<rect x="1096.00" y="1234.10" width="32.00" height="19.90" fill="#fff"/>
<line x1="1136.50" y1="1068.60" x2="1136.50" y2="1368.70" stroke="#000" stroke-width="1"/>
<line x1="709.10" y1="1067.60" x2="709.10" y2="1369.70" stroke="#000" stroke-width="2"/>
<line x1="708.10" y1="1368.70" x2="1137.20" y2="1368.70" stroke="#000" stroke-width="2"/>
<path d="M709.10,1368.69 L712.03,1367.90 L714.95,1367.11 L717.88,1366.30 L720.80,1365.49 L723.72,1364.68 L726.64,1363.86 L729.56,1363.03 L732.47,1362.19 L735.38,1361.35 L738.29,1360.50 L741.20,1359.65 L744.11,1358.79 L747.01,1357.92 L749.91,1357.04 L752.81,1356.15 L755.70,1355.26 L758.59,1354.36 L761.48,1353.45 L764.36,1352.54 L767.25,1351.61 L770.13,1350.68 L773.00,1349.74 L775.87,1348.79 L778.74,1347.84 L781.61,1346.87 L784.47,1345.89 L787.33,1344.91 L790.18,1343.92 L793.03,1342.92 L795.88,1341.91 L798.72,1340.89 L801.56,1339.86 L804.40,1338.82 L807.23,1337.77 L810.05,1336.71 L812.88,1335.64 L815.69,1334.56 L818.51,1333.47 L821.32,1332.37 L824.12,1331.26 L826.92,1330.14 L829.72,1329.01 L832.51,1327.87 L835.29,1326.72 L838.07,1325.55 L840.85,1324.38 L843.62,1323.19 L846.38,1322.00 L849.14,1320.79 L851.90,1319.57 L854.65,1318.34 L857.39,1317.09 L860.13,1315.84 L862.86,1314.57 L865.59,1313.30 L868.32,1312.01 L871.03,1310.71 L873.75,1309.40 L876.46,1308.08 L879.16,1306.75 L881.86,1305.41 L884.55,1304.07 L887.24,1302.71 L889.93,1301.34 L892.61,1299.96 L895.29,1298.57 L897.96,1297.18 L900.63,1295.77 L903.29,1294.36 L905.95,1292.93 L908.60,1291.50 L911.25,1290.06 L913.90,1288.61 L916.54,1287.16 L919.18,1285.69 L921.82,1284.22 L924.45,1282.74 L927.08,1281.26 L929.70,1279.76 L932.32,1278.26 L934.94,1276.76 L937.55,1275.24 L940.16,1273.72 L942.77,1272.19 L945.37,1270.66 L947.98,1269.12 L950.57,1267.57 L953.17,1266.02 L955.76,1264.46 L958.34,1262.90 L960.93,1261.33 L963.51,1259.75 L966.09,1258.17 L968.67,1256.59 L971.24,1255.00 L973.81,1253.40 L976.38,1251.80 L978.94,1250.19 L981.50,1248.58 L984.06,1246.97 L986.62,1245.35 L989.17,1243.72 L991.73,1242.10 L994.28,1240.46 L996.82,1238.83 L999.37,1237.19 L1001.91,1235.54 L1004.45,1233.90 L1006.99,1232.24 L1009.53,1230.59 L1012.06,1228.93 L1014.59,1227.27 L1017.12,1225.61 L1019.65,1223.94 L1022.18,1222.27 L1024.70,1220.60 L1027.23,1218.92 L1029.75,1217.24 L1032.27,1215.56 L1034.78,1213.88 L1037.30,1212.20 L1039.82,1210.51 L1042.33,1208.82 L1044.84,1207.13 L1047.35,1205.44 L1049.86,1203.74 L1052.37,1202.05 L1054.87,1200.35 L1057.38,1198.66 L1059.88,1196.96 L1062.39,1195.26 L1064.89,1193.55 L1067.39,1191.85 L1069.89,1190.15 L1072.38,1188.44 L1074.88,1186.73 L1077.37,1185.02 L1079.87,1183.31 L1082.36,1181.60 L1084.85,1179.89 L1087.34,1178.18 L1089.82,1176.46 L1092.31,1174.74 L1094.80,1173.03 L1097.28,1171.31 L1099.76,1169.59 L1102.24,1167.86 L1104.72,1166.14 L1107.20,1164.41 L1109.67,1162.69 L1112.15,1160.96 L1114.62,1159.23 L1117.09,1157.50 L1119.56,1155.77 L1122.03,1154.04 L1124.49,1152.30 L1126.96,1150.56 L1129.42,1148.83 L1131.88,1147.09 L1134.34,1145.35 L1136.80,1143.61" fill="none" stroke="#000" stroke-width="3" stroke-linejoin="round" stroke-linecap="butt"/>
<path d="M709.10,1368.69 L712.07,1368.10 L715.05,1367.50 L718.03,1366.91 L721.00,1366.30 L723.97,1365.70 L726.95,1365.09 L729.92,1364.47 L732.89,1363.85 L735.86,1363.22 L738.83,1362.59 L741.79,1361.96 L744.76,1361.31 L747.72,1360.67 L750.69,1360.02 L753.65,1359.36 L756.61,1358.70 L759.57,1358.03 L762.53,1357.35 L765.48,1356.67 L768.44,1355.99 L771.39,1355.30 L774.34,1354.60 L777.29,1353.90 L780.24,1353.19 L783.18,1352.47 L786.13,1351.75 L789.07,1351.02 L792.01,1350.29 L794.95,1349.55 L797.88,1348.80 L800.82,1348.05 L803.75,1347.29 L806.68,1346.52 L809.61,1345.75 L812.53,1344.97 L815.46,1344.18 L818.38,1343.39 L821.30,1342.59 L824.22,1341.78 L827.13,1340.97 L830.04,1340.14 L832.95,1339.31 L835.86,1338.48 L838.77,1337.63 L841.67,1336.78 L844.57,1335.92 L847.47,1335.05 L850.36,1334.18 L853.25,1333.30 L856.14,1332.40 L859.03,1331.51 L861.91,1330.60 L864.79,1329.68 L867.67,1328.76 L870.55,1327.83 L873.42,1326.89 L876.29,1325.94 L879.15,1324.98 L882.02,1324.02 L884.88,1323.05 L887.73,1322.06 L890.59,1321.07 L893.44,1320.07 L896.28,1319.06 L899.13,1318.04 L901.97,1317.02 L904.80,1315.98 L907.64,1314.93 L910.47,1313.88 L913.29,1312.82 L916.12,1311.74 L918.94,1310.66 L921.75,1309.57 L924.57,1308.46 L927.37,1307.35 L930.18,1306.23 L932.98,1305.10 L935.78,1303.96 L938.57,1302.81 L941.36,1301.65 L944.15,1300.47 L946.93,1299.29 L949.71,1298.10 L952.48,1296.90 L955.25,1295.70 L958.02,1294.48 L960.79,1293.25 L963.55,1292.02 L966.31,1290.78 L969.06,1289.53 L971.82,1288.27 L974.56,1287.01 L977.31,1285.74 L980.06,1284.46 L982.80,1283.17 L985.53,1281.88 L988.27,1280.58 L991.00,1279.27 L993.73,1277.96 L996.46,1276.64 L999.19,1275.32 L1001.91,1273.99 L1004.63,1272.65 L1007.35,1271.31 L1010.07,1269.97 L1012.79,1268.62 L1015.50,1267.27 L1018.21,1265.91 L1020.92,1264.55 L1023.63,1263.18 L1026.33,1261.81 L1029.04,1260.44 L1031.74,1259.06 L1034.45,1257.68 L1037.15,1256.30 L1039.85,1254.91 L1042.54,1253.52 L1045.24,1252.13 L1047.94,1250.74 L1050.63,1249.35 L1053.33,1247.95 L1056.02,1246.55 L1058.71,1245.15 L1061.41,1243.75 L1064.10,1242.35 L1066.79,1240.95 L1069.48,1239.55 L1072.17,1238.14 L1074.86,1236.74 L1077.55,1235.34 L1080.24,1233.94 L1082.93,1232.53 L1085.62,1231.13 L1088.31,1229.73 L1090.99,1228.33 L1093.68,1226.93 L1096.37,1225.54 L1099.06,1224.14 L1101.75,1222.75 L1104.45,1221.36 L1107.14,1219.97 L1109.83,1218.58 L1112.52,1217.20 L1115.21,1215.82 L1117.91,1214.44 L1120.60,1213.06 L1123.30,1211.69 L1126.00,1210.32 L1128.70,1208.96 L1131.39,1207.60 L1134.09,1206.24 L1136.80,1204.89" fill="none" stroke="#000" stroke-width="3" stroke-linejoin="round" stroke-linecap="butt"/>
<text x="724.80" y="1100.00" font-size="15.6" font-weight="normal" fill="#000" stroke="#000" stroke-width="0.25" textLength="69.20" lengthAdjust="spacingAndGlyphs">T<tspan font-size="11.544" dy="3.4">J</tspan><tspan font-size="15.6" dy="-3.4"> = 175°C</tspan></text>
<text x="1005.90" y="1152.00" font-size="15.6" font-weight="normal" fill="#000" stroke="#000" stroke-width="0.25" textLength="99.70" lengthAdjust="spacingAndGlyphs">SQUARE WAVE</text>
<text x="1103.50" y="1249.20" font-size="15.6" font-weight="normal" fill="#000" stroke="#000" stroke-width="0.25" textLength="17.60" lengthAdjust="spacingAndGlyphs">dc</text>
<text x="687.90" y="1070.90" font-size="15.7" font-weight="normal" fill="#000" stroke="#000" stroke-width="0.25" textLength="14.30" lengthAdjust="spacingAndGlyphs">30</text>
<text x="687.90" y="1091.00" font-size="15.7" font-weight="normal" fill="#000" stroke="#000" stroke-width="0.25" textLength="14.30" lengthAdjust="spacingAndGlyphs">28</text>
<text x="687.90" y="1111.10" font-size="15.7" font-weight="normal" fill="#000" stroke="#000" stroke-width="0.25" textLength="14.30" lengthAdjust="spacingAndGlyphs">26</text>
<text x="687.90" y="1131.20" font-size="15.7" font-weight="normal" fill="#000" stroke="#000" stroke-width="0.25" textLength="14.30" lengthAdjust="spacingAndGlyphs">24</text>
<text x="687.90" y="1151.30" font-size="15.7" font-weight="normal" fill="#000" stroke="#000" stroke-width="0.25" textLength="14.30" lengthAdjust="spacingAndGlyphs">22</text>
<text x="687.90" y="1171.40" font-size="15.7" font-weight="normal" fill="#000" stroke="#000" stroke-width="0.25" textLength="14.30" lengthAdjust="spacingAndGlyphs">20</text>
<text x="687.90" y="1191.50" font-size="15.7" font-weight="normal" fill="#000" stroke="#000" stroke-width="0.25" textLength="14.30" lengthAdjust="spacingAndGlyphs">18</text>
<text x="687.90" y="1211.60" font-size="15.7" font-weight="normal" fill="#000" stroke="#000" stroke-width="0.25" textLength="14.30" lengthAdjust="spacingAndGlyphs">16</text>
<text x="687.90" y="1231.70" font-size="15.7" font-weight="normal" fill="#000" stroke="#000" stroke-width="0.25" textLength="14.30" lengthAdjust="spacingAndGlyphs">14</text>
<text x="687.90" y="1251.80" font-size="15.7" font-weight="normal" fill="#000" stroke="#000" stroke-width="0.25" textLength="14.30" lengthAdjust="spacingAndGlyphs">12</text>
<text x="687.90" y="1271.90" font-size="15.7" font-weight="normal" fill="#000" stroke="#000" stroke-width="0.25" textLength="14.30" lengthAdjust="spacingAndGlyphs">10</text>
<text x="695.20" y="1292.00" font-size="15.7" font-weight="normal" fill="#000" stroke="#000" stroke-width="0.25" textLength="7.00" lengthAdjust="spacingAndGlyphs">8</text>
<text x="695.20" y="1312.10" font-size="15.7" font-weight="normal" fill="#000" stroke="#000" stroke-width="0.25" textLength="7.00" lengthAdjust="spacingAndGlyphs">6</text>
<text x="695.20" y="1332.20" font-size="15.7" font-weight="normal" fill="#000" stroke="#000" stroke-width="0.25" textLength="7.00" lengthAdjust="spacingAndGlyphs">4</text>
<text x="695.20" y="1352.30" font-size="15.7" font-weight="normal" fill="#000" stroke="#000" stroke-width="0.25" textLength="7.00" lengthAdjust="spacingAndGlyphs">2</text>
<text x="695.20" y="1372.40" font-size="15.7" font-weight="normal" fill="#000" stroke="#000" stroke-width="0.25" textLength="7.00" lengthAdjust="spacingAndGlyphs">0</text>
<text x="705.60" y="1386.70" font-size="15.7" font-weight="normal" fill="#000" stroke="#000" stroke-width="0.25" textLength="7.00" lengthAdjust="spacingAndGlyphs">0</text>
<text x="734.11" y="1386.70" font-size="15.7" font-weight="normal" fill="#000" stroke="#000" stroke-width="0.25" textLength="7.00" lengthAdjust="spacingAndGlyphs">2</text>
<text x="762.61" y="1386.70" font-size="15.7" font-weight="normal" fill="#000" stroke="#000" stroke-width="0.25" textLength="7.00" lengthAdjust="spacingAndGlyphs">4</text>
<text x="791.12" y="1386.70" font-size="15.7" font-weight="normal" fill="#000" stroke="#000" stroke-width="0.25" textLength="7.00" lengthAdjust="spacingAndGlyphs">6</text>
<text x="819.63" y="1386.70" font-size="15.7" font-weight="normal" fill="#000" stroke="#000" stroke-width="0.25" textLength="7.00" lengthAdjust="spacingAndGlyphs">8</text>
<text x="844.33" y="1386.70" font-size="15.7" font-weight="normal" fill="#000" stroke="#000" stroke-width="0.25" textLength="14.60" lengthAdjust="spacingAndGlyphs">10</text>
<text x="872.84" y="1386.70" font-size="15.7" font-weight="normal" fill="#000" stroke="#000" stroke-width="0.25" textLength="14.60" lengthAdjust="spacingAndGlyphs">12</text>
<text x="901.35" y="1386.70" font-size="15.7" font-weight="normal" fill="#000" stroke="#000" stroke-width="0.25" textLength="14.60" lengthAdjust="spacingAndGlyphs">14</text>
<text x="929.85" y="1386.70" font-size="15.7" font-weight="normal" fill="#000" stroke="#000" stroke-width="0.25" textLength="14.60" lengthAdjust="spacingAndGlyphs">16</text>
<text x="958.36" y="1386.70" font-size="15.7" font-weight="normal" fill="#000" stroke="#000" stroke-width="0.25" textLength="14.60" lengthAdjust="spacingAndGlyphs">18</text>
<text x="986.87" y="1386.70" font-size="15.7" font-weight="normal" fill="#000" stroke="#000" stroke-width="0.25" textLength="14.60" lengthAdjust="spacingAndGlyphs">20</text>
<text x="1015.37" y="1386.70" font-size="15.7" font-weight="normal" fill="#000" stroke="#000" stroke-width="0.25" textLength="14.60" lengthAdjust="spacingAndGlyphs">22</text>
<text x="1043.88" y="1386.70" font-size="15.7" font-weight="normal" fill="#000" stroke="#000" stroke-width="0.25" textLength="14.60" lengthAdjust="spacingAndGlyphs">24</text>
<text x="1072.39" y="1386.70" font-size="15.7" font-weight="normal" fill="#000" stroke="#000" stroke-width="0.25" textLength="14.60" lengthAdjust="spacingAndGlyphs">26</text>
<text x="1100.89" y="1386.70" font-size="15.7" font-weight="normal" fill="#000" stroke="#000" stroke-width="0.25" textLength="14.60" lengthAdjust="spacingAndGlyphs">28</text>
<text x="1129.40" y="1386.70" font-size="15.7" font-weight="normal" fill="#000" stroke="#000" stroke-width="0.25" textLength="14.60" lengthAdjust="spacingAndGlyphs">30</text>
<text x="770.60" y="1414.80" font-size="15.6" font-weight="normal" fill="#000" stroke="#000" stroke-width="0.25" textLength="298.10" lengthAdjust="spacingAndGlyphs">I<tspan font-size="12.48" dy="3.8">F(AV)</tspan><tspan font-size="15.6" dy="-3.8">, AVERAGE FORWARD CURRENT (AMPS)</tspan></text>
<text transform="translate(664.80 1429.10) rotate(-90)" x="0" y="0" font-size="15.6" stroke="#000" stroke-width="0.25" textLength="388.50" lengthAdjust="spacingAndGlyphs">P<tspan font-size="15.6" dy="8.3">F (AV)</tspan><tspan font-size="15.6" dy="-8.3">, AVERAGE FORWARD POWER DISSIPATION (WATTS)</tspan></text>
<text x="750.20" y="1468.10" font-size="20.5" font-weight="bold" fill="#000" stroke="#000" stroke-width="0.3" textLength="323.40" lengthAdjust="spacingAndGlyphs">Figure 6. Forward Power Dissipation</text>
<line x1="122.50" y1="1550.40" x2="1151.00" y2="1550.40" stroke="#bdbdbd" stroke-width="4.7" stroke-linecap="round"/>
<text x="557.60" y="1572.70" font-size="18.5" font-weight="bold" fill="#0000ff" textLength="158.20" lengthAdjust="spacingAndGlyphs">www.onsemi.com</text>
<line x1="557.80" y1="1575.40" x2="715.60" y2="1575.40" stroke="#0000ff" stroke-width="1.3"/>
<text x="631.80" y="1593.00" font-size="14" font-weight="bold" fill="#000" textLength="9.00" lengthAdjust="spacingAndGlyphs">3</text>
</g></svg>
</body></html>
